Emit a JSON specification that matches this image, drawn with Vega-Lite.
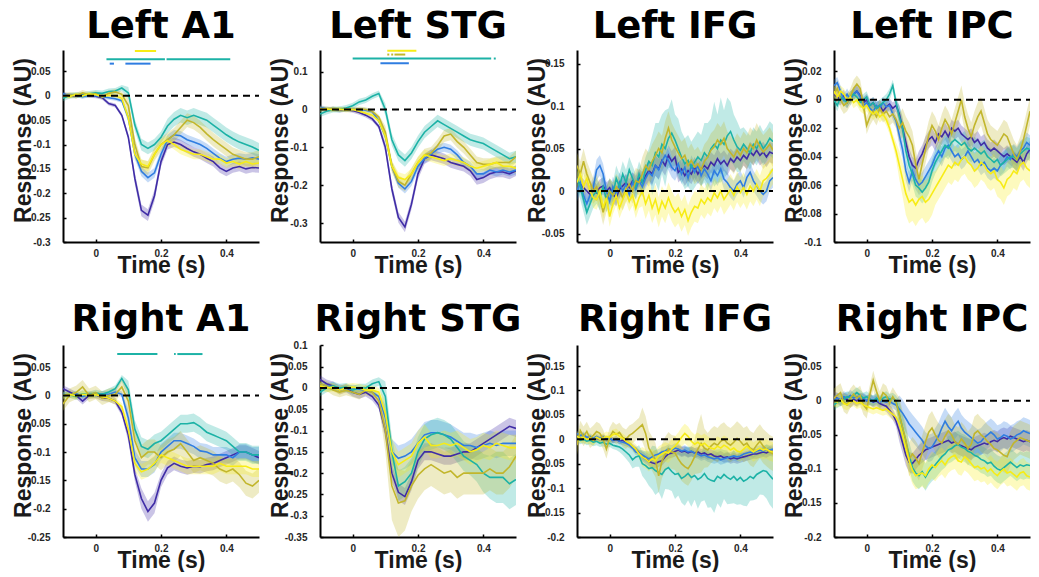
{
"$schema":"https://vega.github.io/schema/vega-lite/v6.json",
"background":"white",
"padding":{"left":12,"top":7,"right":0,"bottom":0},
"columns":4,
"spacing":{"row":103,"column":61},
"bounds":"flush",
"config":{
"view":{"stroke":null},
"axis":{"grid":false,"domainColor":"#000","domainWidth":2,"tickColor":"#000","tickWidth":1.5,"tickSize":-3,"labelFont":"Liberation Sans","labelFontWeight":"bold","labelFontSize":10,"labelColor":"#262626","titleFont":"Liberation Sans","titleFontWeight":"bold","titleFontSize":23,"titleColor":"#1a1a1a","labelFlush":false,"labelOverlap":false},
"axisX":{"labelPadding":9,"titleBaseline":"alphabetic","titleY":30},
"axisY":{"labelPadding":16,"titleBaseline":"alphabetic","titleX":-33,"titleY":90},
"title":{"font":"DejaVu Sans","fontSize":37,"fontWeight":"bold","color":"#000","baseline":"alphabetic","offset":4,"frame":"group","anchor":"middle"}
},
"datasets":{
"la1":[
{"s":1,"t":-0.1,"v":0.003,"e":0.004},{"s":1,"t":-0.08,"v":0.001,"e":0.004},{"s":1,"t":-0.06,"v":-0.001,"e":0.004},{"s":1,"t":-0.04,"v":0.002,"e":0.004},{"s":1,"t":-0.02,"v":0.0,"e":0.004},{"s":1,"t":0,"v":-0.001,"e":0.004},{"s":1,"t":0.02,"v":-0.004,"e":0.004},{"s":1,"t":0.04,"v":-0.016,"e":0.004},{"s":1,"t":0.06,"v":-0.02,"e":0.004},{"s":1,"t":0.08,"v":-0.04,"e":0.004},{"s":1,"t":0.1,"v":-0.085,"e":0.006},{"s":1,"t":0.12,"v":-0.17,"e":0.012},{"s":1,"t":0.14,"v":-0.235,"e":0.012},{"s":1,"t":0.16,"v":-0.245,"e":0.012},{"s":1,"t":0.18,"v":-0.205,"e":0.012},{"s":1,"t":0.2,"v":-0.135,"e":0.01},{"s":1,"t":0.22,"v":-0.1,"e":0.01},{"s":1,"t":0.24,"v":-0.095,"e":0.01},{"s":1,"t":0.26,"v":-0.1,"e":0.01},{"s":1,"t":0.28,"v":-0.108,"e":0.01},{"s":1,"t":0.3,"v":-0.115,"e":0.01},{"s":1,"t":0.32,"v":-0.12,"e":0.01},{"s":1,"t":0.34,"v":-0.128,"e":0.01},{"s":1,"t":0.36,"v":-0.135,"e":0.01},{"s":1,"t":0.38,"v":-0.148,"e":0.01},{"s":1,"t":0.4,"v":-0.155,"e":0.01},{"s":1,"t":0.42,"v":-0.148,"e":0.01},{"s":1,"t":0.44,"v":-0.145,"e":0.01},{"s":1,"t":0.46,"v":-0.15,"e":0.01},{"s":1,"t":0.48,"v":-0.147,"e":0.01},{"s":1,"t":0.5,"v":-0.148,"e":0.01},
{"s":2,"t":-0.1,"v":0.004,"e":0.004},{"s":2,"t":-0.08,"v":0.0,"e":0.004},{"s":2,"t":-0.06,"v":0.002,"e":0.004},{"s":2,"t":-0.04,"v":-0.002,"e":0.004},{"s":2,"t":-0.02,"v":0.001,"e":0.004},{"s":2,"t":0,"v":0.0,"e":0.004},{"s":2,"t":0.02,"v":-0.002,"e":0.004},{"s":2,"t":0.04,"v":-0.004,"e":0.004},{"s":2,"t":0.06,"v":-0.006,"e":0.004},{"s":2,"t":0.08,"v":-0.01,"e":0.004},{"s":2,"t":0.1,"v":-0.045,"e":0.01},{"s":2,"t":0.12,"v":-0.12,"e":0.01},{"s":2,"t":0.14,"v":-0.155,"e":0.01},{"s":2,"t":0.16,"v":-0.168,"e":0.01},{"s":2,"t":0.18,"v":-0.158,"e":0.01},{"s":2,"t":0.2,"v":-0.12,"e":0.01},{"s":2,"t":0.22,"v":-0.09,"e":0.01},{"s":2,"t":0.24,"v":-0.08,"e":0.01},{"s":2,"t":0.26,"v":-0.082,"e":0.01},{"s":2,"t":0.28,"v":-0.09,"e":0.01},{"s":2,"t":0.3,"v":-0.095,"e":0.01},{"s":2,"t":0.32,"v":-0.1,"e":0.01},{"s":2,"t":0.34,"v":-0.108,"e":0.01},{"s":2,"t":0.36,"v":-0.118,"e":0.01},{"s":2,"t":0.38,"v":-0.128,"e":0.01},{"s":2,"t":0.4,"v":-0.135,"e":0.01},{"s":2,"t":0.42,"v":-0.13,"e":0.01},{"s":2,"t":0.44,"v":-0.128,"e":0.01},{"s":2,"t":0.46,"v":-0.13,"e":0.01},{"s":2,"t":0.48,"v":-0.127,"e":0.01},{"s":2,"t":0.5,"v":-0.13,"e":0.01},
{"s":3,"t":-0.1,"v":-0.005,"e":0.006},{"s":3,"t":-0.08,"v":0.0,"e":0.006},{"s":3,"t":-0.06,"v":0.002,"e":0.006},{"s":3,"t":-0.04,"v":0.001,"e":0.006},{"s":3,"t":-0.02,"v":0.004,"e":0.006},{"s":3,"t":0,"v":0.006,"e":0.006},{"s":3,"t":0.02,"v":0.005,"e":0.006},{"s":3,"t":0.04,"v":0.009,"e":0.006},{"s":3,"t":0.06,"v":0.01,"e":0.006},{"s":3,"t":0.08,"v":0.016,"e":0.006},{"s":3,"t":0.1,"v":0.006,"e":0.012},{"s":3,"t":0.12,"v":-0.06,"e":0.012},{"s":3,"t":0.14,"v":-0.1,"e":0.012},{"s":3,"t":0.16,"v":-0.108,"e":0.012},{"s":3,"t":0.18,"v":-0.1,"e":0.012},{"s":3,"t":0.2,"v":-0.085,"e":0.012},{"s":3,"t":0.22,"v":-0.062,"e":0.015},{"s":3,"t":0.24,"v":-0.048,"e":0.015},{"s":3,"t":0.26,"v":-0.04,"e":0.015},{"s":3,"t":0.28,"v":-0.045,"e":0.015},{"s":3,"t":0.3,"v":-0.04,"e":0.015},{"s":3,"t":0.32,"v":-0.045,"e":0.015},{"s":3,"t":0.34,"v":-0.05,"e":0.015},{"s":3,"t":0.36,"v":-0.06,"e":0.015},{"s":3,"t":0.38,"v":-0.07,"e":0.015},{"s":3,"t":0.4,"v":-0.08,"e":0.015},{"s":3,"t":0.42,"v":-0.088,"e":0.015},{"s":3,"t":0.44,"v":-0.095,"e":0.015},{"s":3,"t":0.46,"v":-0.1,"e":0.015},{"s":3,"t":0.48,"v":-0.105,"e":0.015},{"s":3,"t":0.5,"v":-0.112,"e":0.015},
{"s":4,"t":-0.1,"v":0.0,"e":0.006},{"s":4,"t":-0.08,"v":0.002,"e":0.006},{"s":4,"t":-0.06,"v":0.0,"e":0.006},{"s":4,"t":-0.04,"v":0.006,"e":0.006},{"s":4,"t":-0.02,"v":0.002,"e":0.006},{"s":4,"t":0,"v":0.004,"e":0.006},{"s":4,"t":0.02,"v":-0.002,"e":0.006},{"s":4,"t":0.04,"v":0.005,"e":0.006},{"s":4,"t":0.06,"v":0.008,"e":0.006},{"s":4,"t":0.08,"v":0.003,"e":0.006},{"s":4,"t":0.1,"v":-0.02,"e":0.014},{"s":4,"t":0.12,"v":-0.1,"e":0.014},{"s":4,"t":0.14,"v":-0.145,"e":0.014},{"s":4,"t":0.16,"v":-0.148,"e":0.014},{"s":4,"t":0.18,"v":-0.12,"e":0.014},{"s":4,"t":0.2,"v":-0.1,"e":0.014},{"s":4,"t":0.22,"v":-0.09,"e":0.014},{"s":4,"t":0.24,"v":-0.08,"e":0.014},{"s":4,"t":0.26,"v":-0.065,"e":0.014},{"s":4,"t":0.28,"v":-0.05,"e":0.014},{"s":4,"t":0.3,"v":-0.055,"e":0.014},{"s":4,"t":0.32,"v":-0.065,"e":0.014},{"s":4,"t":0.34,"v":-0.078,"e":0.014},{"s":4,"t":0.36,"v":-0.09,"e":0.014},{"s":4,"t":0.38,"v":-0.1,"e":0.014},{"s":4,"t":0.4,"v":-0.11,"e":0.014},{"s":4,"t":0.42,"v":-0.12,"e":0.014},{"s":4,"t":0.44,"v":-0.125,"e":0.014},{"s":4,"t":0.46,"v":-0.13,"e":0.014},{"s":4,"t":0.48,"v":-0.13,"e":0.014},{"s":4,"t":0.5,"v":-0.125,"e":0.014},
{"s":5,"t":-0.1,"v":0.0,"e":0.004},{"s":5,"t":-0.08,"v":-0.002,"e":0.004},{"s":5,"t":-0.06,"v":0.003,"e":0.004},{"s":5,"t":-0.04,"v":0.0,"e":0.004},{"s":5,"t":-0.02,"v":0.004,"e":0.004},{"s":5,"t":0,"v":0.002,"e":0.004},{"s":5,"t":0.02,"v":-0.002,"e":0.004},{"s":5,"t":0.04,"v":0.001,"e":0.004},{"s":5,"t":0.06,"v":0.0,"e":0.004},{"s":5,"t":0.08,"v":-0.005,"e":0.004},{"s":5,"t":0.1,"v":-0.045,"e":0.01},{"s":5,"t":0.12,"v":-0.12,"e":0.01},{"s":5,"t":0.14,"v":-0.14,"e":0.01},{"s":5,"t":0.16,"v":-0.145,"e":0.01},{"s":5,"t":0.18,"v":-0.12,"e":0.01},{"s":5,"t":0.2,"v":-0.1,"e":0.01},{"s":5,"t":0.22,"v":-0.092,"e":0.01},{"s":5,"t":0.24,"v":-0.1,"e":0.01},{"s":5,"t":0.26,"v":-0.11,"e":0.01},{"s":5,"t":0.28,"v":-0.115,"e":0.01},{"s":5,"t":0.3,"v":-0.12,"e":0.01},{"s":5,"t":0.32,"v":-0.12,"e":0.01},{"s":5,"t":0.34,"v":-0.125,"e":0.01},{"s":5,"t":0.36,"v":-0.13,"e":0.01},{"s":5,"t":0.38,"v":-0.13,"e":0.01},{"s":5,"t":0.4,"v":-0.138,"e":0.01},{"s":5,"t":0.42,"v":-0.135,"e":0.01},{"s":5,"t":0.44,"v":-0.14,"e":0.01},{"s":5,"t":0.46,"v":-0.135,"e":0.01},{"s":5,"t":0.48,"v":-0.14,"e":0.01},{"s":5,"t":0.5,"v":-0.138,"e":0.01}
],
"lstg":[
{"s":1,"t":-0.1,"v":0.002,"e":0.006},{"s":1,"t":-0.08,"v":0.0,"e":0.006},{"s":1,"t":-0.06,"v":0.001,"e":0.006},{"s":1,"t":-0.04,"v":-0.002,"e":0.006},{"s":1,"t":-0.02,"v":0.0,"e":0.006},{"s":1,"t":0,"v":-0.003,"e":0.006},{"s":1,"t":0.02,"v":-0.008,"e":0.006},{"s":1,"t":0.04,"v":-0.015,"e":0.006},{"s":1,"t":0.06,"v":-0.025,"e":0.006},{"s":1,"t":0.08,"v":-0.045,"e":0.006},{"s":1,"t":0.1,"v":-0.1,"e":0.014},{"s":1,"t":0.12,"v":-0.21,"e":0.014},{"s":1,"t":0.14,"v":-0.285,"e":0.014},{"s":1,"t":0.16,"v":-0.31,"e":0.014},{"s":1,"t":0.18,"v":-0.25,"e":0.014},{"s":1,"t":0.2,"v":-0.17,"e":0.014},{"s":1,"t":0.22,"v":-0.13,"e":0.014},{"s":1,"t":0.24,"v":-0.12,"e":0.014},{"s":1,"t":0.26,"v":-0.125,"e":0.014},{"s":1,"t":0.28,"v":-0.13,"e":0.014},{"s":1,"t":0.3,"v":-0.14,"e":0.014},{"s":1,"t":0.32,"v":-0.145,"e":0.014},{"s":1,"t":0.34,"v":-0.15,"e":0.014},{"s":1,"t":0.36,"v":-0.162,"e":0.014},{"s":1,"t":0.38,"v":-0.185,"e":0.014},{"s":1,"t":0.4,"v":-0.18,"e":0.014},{"s":1,"t":0.42,"v":-0.17,"e":0.014},{"s":1,"t":0.44,"v":-0.165,"e":0.014},{"s":1,"t":0.46,"v":-0.165,"e":0.014},{"s":1,"t":0.48,"v":-0.17,"e":0.014},{"s":1,"t":0.5,"v":-0.162,"e":0.014},
{"s":2,"t":-0.1,"v":0.005,"e":0.006},{"s":2,"t":-0.08,"v":0.002,"e":0.006},{"s":2,"t":-0.06,"v":0.0,"e":0.006},{"s":2,"t":-0.04,"v":0.001,"e":0.006},{"s":2,"t":-0.02,"v":-0.001,"e":0.006},{"s":2,"t":0,"v":0.0,"e":0.006},{"s":2,"t":0.02,"v":0.0,"e":0.006},{"s":2,"t":0.04,"v":-0.002,"e":0.006},{"s":2,"t":0.06,"v":-0.006,"e":0.006},{"s":2,"t":0.08,"v":-0.03,"e":0.006},{"s":2,"t":0.1,"v":-0.07,"e":0.012},{"s":2,"t":0.12,"v":-0.15,"e":0.012},{"s":2,"t":0.14,"v":-0.195,"e":0.012},{"s":2,"t":0.16,"v":-0.21,"e":0.012},{"s":2,"t":0.18,"v":-0.19,"e":0.012},{"s":2,"t":0.2,"v":-0.15,"e":0.012},{"s":2,"t":0.22,"v":-0.13,"e":0.012},{"s":2,"t":0.24,"v":-0.118,"e":0.012},{"s":2,"t":0.26,"v":-0.105,"e":0.012},{"s":2,"t":0.28,"v":-0.1,"e":0.012},{"s":2,"t":0.3,"v":-0.105,"e":0.012},{"s":2,"t":0.32,"v":-0.12,"e":0.012},{"s":2,"t":0.34,"v":-0.14,"e":0.012},{"s":2,"t":0.36,"v":-0.15,"e":0.012},{"s":2,"t":0.38,"v":-0.17,"e":0.012},{"s":2,"t":0.4,"v":-0.17,"e":0.012},{"s":2,"t":0.42,"v":-0.16,"e":0.012},{"s":2,"t":0.44,"v":-0.165,"e":0.012},{"s":2,"t":0.46,"v":-0.16,"e":0.012},{"s":2,"t":0.48,"v":-0.165,"e":0.012},{"s":2,"t":0.5,"v":-0.16,"e":0.012},
{"s":3,"t":-0.1,"v":-0.012,"e":0.008},{"s":3,"t":-0.08,"v":-0.005,"e":0.008},{"s":3,"t":-0.06,"v":0.0,"e":0.008},{"s":3,"t":-0.04,"v":0.0,"e":0.008},{"s":3,"t":-0.02,"v":0.004,"e":0.008},{"s":3,"t":0,"v":0.01,"e":0.008},{"s":3,"t":0.02,"v":0.02,"e":0.008},{"s":3,"t":0.04,"v":0.025,"e":0.008},{"s":3,"t":0.06,"v":0.035,"e":0.008},{"s":3,"t":0.08,"v":0.042,"e":0.008},{"s":3,"t":0.1,"v":0.0,"e":0.016},{"s":3,"t":0.12,"v":-0.08,"e":0.016},{"s":3,"t":0.14,"v":-0.12,"e":0.016},{"s":3,"t":0.16,"v":-0.135,"e":0.016},{"s":3,"t":0.18,"v":-0.115,"e":0.016},{"s":3,"t":0.2,"v":-0.085,"e":0.016},{"s":3,"t":0.22,"v":-0.06,"e":0.016},{"s":3,"t":0.24,"v":-0.045,"e":0.016},{"s":3,"t":0.26,"v":-0.03,"e":0.016},{"s":3,"t":0.28,"v":-0.04,"e":0.016},{"s":3,"t":0.3,"v":-0.05,"e":0.016},{"s":3,"t":0.32,"v":-0.06,"e":0.016},{"s":3,"t":0.34,"v":-0.07,"e":0.016},{"s":3,"t":0.36,"v":-0.08,"e":0.016},{"s":3,"t":0.38,"v":-0.085,"e":0.016},{"s":3,"t":0.4,"v":-0.09,"e":0.016},{"s":3,"t":0.42,"v":-0.1,"e":0.016},{"s":3,"t":0.44,"v":-0.11,"e":0.016},{"s":3,"t":0.46,"v":-0.12,"e":0.016},{"s":3,"t":0.48,"v":-0.13,"e":0.016},{"s":3,"t":0.5,"v":-0.125,"e":0.016},
{"s":4,"t":-0.1,"v":0.003,"e":0.006},{"s":4,"t":-0.08,"v":0.0,"e":0.006},{"s":4,"t":-0.06,"v":0.002,"e":0.006},{"s":4,"t":-0.04,"v":-0.001,"e":0.006},{"s":4,"t":-0.02,"v":0.001,"e":0.006},{"s":4,"t":0,"v":0.0,"e":0.006},{"s":4,"t":0.02,"v":0.002,"e":0.006},{"s":4,"t":0.04,"v":0.0,"e":0.006},{"s":4,"t":0.06,"v":-0.005,"e":0.006},{"s":4,"t":0.08,"v":-0.02,"e":0.006},{"s":4,"t":0.1,"v":-0.06,"e":0.016},{"s":4,"t":0.12,"v":-0.15,"e":0.016},{"s":4,"t":0.14,"v":-0.19,"e":0.016},{"s":4,"t":0.16,"v":-0.2,"e":0.016},{"s":4,"t":0.18,"v":-0.17,"e":0.016},{"s":4,"t":0.2,"v":-0.14,"e":0.016},{"s":4,"t":0.22,"v":-0.12,"e":0.016},{"s":4,"t":0.24,"v":-0.115,"e":0.016},{"s":4,"t":0.26,"v":-0.095,"e":0.016},{"s":4,"t":0.28,"v":-0.07,"e":0.016},{"s":4,"t":0.3,"v":-0.065,"e":0.016},{"s":4,"t":0.32,"v":-0.085,"e":0.016},{"s":4,"t":0.34,"v":-0.1,"e":0.016},{"s":4,"t":0.36,"v":-0.12,"e":0.016},{"s":4,"t":0.38,"v":-0.14,"e":0.016},{"s":4,"t":0.4,"v":-0.145,"e":0.016},{"s":4,"t":0.42,"v":-0.145,"e":0.016},{"s":4,"t":0.44,"v":-0.14,"e":0.016},{"s":4,"t":0.46,"v":-0.14,"e":0.016},{"s":4,"t":0.48,"v":-0.14,"e":0.016},{"s":4,"t":0.5,"v":-0.125,"e":0.016},
{"s":5,"t":-0.1,"v":0.0,"e":0.006},{"s":5,"t":-0.08,"v":0.002,"e":0.006},{"s":5,"t":-0.06,"v":-0.001,"e":0.006},{"s":5,"t":-0.04,"v":0.001,"e":0.006},{"s":5,"t":-0.02,"v":-0.002,"e":0.006},{"s":5,"t":0,"v":0.0,"e":0.006},{"s":5,"t":0.02,"v":-0.005,"e":0.006},{"s":5,"t":0.04,"v":-0.01,"e":0.006},{"s":5,"t":0.06,"v":-0.015,"e":0.006},{"s":5,"t":0.08,"v":-0.03,"e":0.006},{"s":5,"t":0.1,"v":-0.07,"e":0.014},{"s":5,"t":0.12,"v":-0.15,"e":0.014},{"s":5,"t":0.14,"v":-0.18,"e":0.014},{"s":5,"t":0.16,"v":-0.185,"e":0.014},{"s":5,"t":0.18,"v":-0.17,"e":0.014},{"s":5,"t":0.2,"v":-0.14,"e":0.014},{"s":5,"t":0.22,"v":-0.12,"e":0.014},{"s":5,"t":0.24,"v":-0.125,"e":0.014},{"s":5,"t":0.26,"v":-0.13,"e":0.014},{"s":5,"t":0.28,"v":-0.135,"e":0.014},{"s":5,"t":0.3,"v":-0.13,"e":0.014},{"s":5,"t":0.32,"v":-0.135,"e":0.014},{"s":5,"t":0.34,"v":-0.14,"e":0.014},{"s":5,"t":0.36,"v":-0.15,"e":0.014},{"s":5,"t":0.38,"v":-0.155,"e":0.014},{"s":5,"t":0.4,"v":-0.15,"e":0.014},{"s":5,"t":0.42,"v":-0.145,"e":0.014},{"s":5,"t":0.44,"v":-0.14,"e":0.014},{"s":5,"t":0.46,"v":-0.15,"e":0.014},{"s":5,"t":0.48,"v":-0.15,"e":0.014},{"s":5,"t":0.5,"v":-0.155,"e":0.014}
],
"lifg":[
{"s":1,"t":-0.1,"v":0.012,"e":0.01},{"s":1,"t":-0.09,"v":0.008,"e":0.01},{"s":1,"t":-0.08,"v":0.004,"e":0.01},{"s":1,"t":-0.07,"v":0.0,"e":0.01},{"s":1,"t":-0.06,"v":-0.004,"e":0.01},{"s":1,"t":-0.05,"v":0.002,"e":0.01},{"s":1,"t":-0.04,"v":-0.002,"e":0.01},{"s":1,"t":-0.03,"v":0.004,"e":0.01},{"s":1,"t":-0.02,"v":0.006,"e":0.01},{"s":1,"t":-0.01,"v":0.0,"e":0.01},{"s":1,"t":0,"v":0.004,"e":0.01},{"s":1,"t":0.01,"v":-0.004,"e":0.01},{"s":1,"t":0.02,"v":-0.008,"e":0.01},{"s":1,"t":0.03,"v":0.002,"e":0.01},{"s":1,"t":0.04,"v":0.006,"e":0.01},{"s":1,"t":0.05,"v":0.01,"e":0.01},{"s":1,"t":0.06,"v":0.004,"e":0.01},{"s":1,"t":0.07,"v":0.012,"e":0.01},{"s":1,"t":0.08,"v":0.008,"e":0.01},{"s":1,"t":0.09,"v":0.016,"e":0.01},{"s":1,"t":0.1,"v":0.01,"e":0.012},{"s":1,"t":0.11,"v":0.018,"e":0.012},{"s":1,"t":0.12,"v":0.024,"e":0.012},{"s":1,"t":0.13,"v":0.02,"e":0.012},{"s":1,"t":0.14,"v":0.03,"e":0.012},{"s":1,"t":0.15,"v":0.026,"e":0.012},{"s":1,"t":0.16,"v":0.036,"e":0.012},{"s":1,"t":0.17,"v":0.03,"e":0.012},{"s":1,"t":0.18,"v":0.042,"e":0.012},{"s":1,"t":0.19,"v":0.035,"e":0.012},{"s":1,"t":0.2,"v":0.04,"e":0.012},{"s":1,"t":0.21,"v":0.022,"e":0.012},{"s":1,"t":0.22,"v":0.026,"e":0.012},{"s":1,"t":0.23,"v":0.018,"e":0.012},{"s":1,"t":0.24,"v":0.024,"e":0.012},{"s":1,"t":0.25,"v":0.02,"e":0.012},{"s":1,"t":0.26,"v":0.028,"e":0.012},{"s":1,"t":0.27,"v":0.02,"e":0.012},{"s":1,"t":0.28,"v":0.026,"e":0.012},{"s":1,"t":0.29,"v":0.03,"e":0.012},{"s":1,"t":0.3,"v":0.026,"e":0.012},{"s":1,"t":0.31,"v":0.034,"e":0.012},{"s":1,"t":0.32,"v":0.03,"e":0.012},{"s":1,"t":0.33,"v":0.038,"e":0.012},{"s":1,"t":0.34,"v":0.032,"e":0.012},{"s":1,"t":0.35,"v":0.036,"e":0.012},{"s":1,"t":0.36,"v":0.03,"e":0.012},{"s":1,"t":0.37,"v":0.038,"e":0.012},{"s":1,"t":0.38,"v":0.034,"e":0.012},{"s":1,"t":0.39,"v":0.04,"e":0.012},{"s":1,"t":0.4,"v":0.036,"e":0.012},{"s":1,"t":0.41,"v":0.042,"e":0.012},{"s":1,"t":0.42,"v":0.038,"e":0.012},{"s":1,"t":0.43,"v":0.046,"e":0.012},{"s":1,"t":0.44,"v":0.042,"e":0.012},{"s":1,"t":0.45,"v":0.048,"e":0.012},{"s":1,"t":0.46,"v":0.042,"e":0.012},{"s":1,"t":0.47,"v":0.046,"e":0.012},{"s":1,"t":0.48,"v":0.04,"e":0.012},{"s":1,"t":0.49,"v":0.046,"e":0.012},{"s":1,"t":0.5,"v":0.044,"e":0.012},
{"s":2,"t":-0.1,"v":0.0,"e":0.012},{"s":2,"t":-0.09,"v":0.01,"e":0.012},{"s":2,"t":-0.08,"v":-0.005,"e":0.012},{"s":2,"t":-0.07,"v":-0.015,"e":0.012},{"s":2,"t":-0.06,"v":-0.005,"e":0.012},{"s":2,"t":-0.05,"v":0.005,"e":0.012},{"s":2,"t":-0.04,"v":0.025,"e":0.012},{"s":2,"t":-0.03,"v":0.03,"e":0.012},{"s":2,"t":-0.02,"v":0.02,"e":0.012},{"s":2,"t":-0.01,"v":0.0,"e":0.012},{"s":2,"t":0,"v":-0.012,"e":0.012},{"s":2,"t":0.01,"v":0.005,"e":0.012},{"s":2,"t":0.02,"v":-0.005,"e":0.012},{"s":2,"t":0.03,"v":0.01,"e":0.012},{"s":2,"t":0.04,"v":0.0,"e":0.012},{"s":2,"t":0.05,"v":0.008,"e":0.012},{"s":2,"t":0.06,"v":-0.004,"e":0.012},{"s":2,"t":0.07,"v":0.01,"e":0.012},{"s":2,"t":0.08,"v":0.002,"e":0.012},{"s":2,"t":0.09,"v":0.012,"e":0.012},{"s":2,"t":0.1,"v":0.005,"e":0.012},{"s":2,"t":0.11,"v":0.015,"e":0.012},{"s":2,"t":0.12,"v":0.022,"e":0.012},{"s":2,"t":0.13,"v":0.018,"e":0.012},{"s":2,"t":0.14,"v":0.03,"e":0.012},{"s":2,"t":0.15,"v":0.025,"e":0.012},{"s":2,"t":0.16,"v":0.035,"e":0.012},{"s":2,"t":0.17,"v":0.042,"e":0.012},{"s":2,"t":0.18,"v":0.036,"e":0.012},{"s":2,"t":0.19,"v":0.028,"e":0.012},{"s":2,"t":0.2,"v":0.024,"e":0.012},{"s":2,"t":0.21,"v":0.032,"e":0.012},{"s":2,"t":0.22,"v":0.02,"e":0.012},{"s":2,"t":0.23,"v":0.028,"e":0.012},{"s":2,"t":0.24,"v":0.015,"e":0.012},{"s":2,"t":0.25,"v":0.03,"e":0.012},{"s":2,"t":0.26,"v":0.022,"e":0.012},{"s":2,"t":0.27,"v":0.03,"e":0.012},{"s":2,"t":0.28,"v":0.018,"e":0.012},{"s":2,"t":0.29,"v":0.026,"e":0.012},{"s":2,"t":0.3,"v":0.02,"e":0.012},{"s":2,"t":0.31,"v":0.012,"e":0.012},{"s":2,"t":0.32,"v":0.024,"e":0.012},{"s":2,"t":0.33,"v":0.018,"e":0.012},{"s":2,"t":0.34,"v":0.026,"e":0.012},{"s":2,"t":0.35,"v":0.014,"e":0.012},{"s":2,"t":0.36,"v":0.01,"e":0.012},{"s":2,"t":0.37,"v":0.004,"e":0.012},{"s":2,"t":0.38,"v":0.0,"e":0.012},{"s":2,"t":0.39,"v":0.008,"e":0.012},{"s":2,"t":0.4,"v":0.012,"e":0.012},{"s":2,"t":0.41,"v":0.004,"e":0.012},{"s":2,"t":0.42,"v":0.016,"e":0.012},{"s":2,"t":0.43,"v":0.022,"e":0.012},{"s":2,"t":0.44,"v":0.012,"e":0.012},{"s":2,"t":0.45,"v":0.006,"e":0.012},{"s":2,"t":0.46,"v":0.0,"e":0.012},{"s":2,"t":0.47,"v":-0.004,"e":0.012},{"s":2,"t":0.48,"v":0.0,"e":0.012},{"s":2,"t":0.49,"v":0.012,"e":0.012},{"s":2,"t":0.5,"v":0.016,"e":0.012},
{"s":3,"t":-0.1,"v":0.015,"e":0.015},{"s":3,"t":-0.09,"v":0.005,"e":0.015},{"s":3,"t":-0.08,"v":-0.01,"e":0.015},{"s":3,"t":-0.07,"v":-0.025,"e":0.015},{"s":3,"t":-0.06,"v":-0.015,"e":0.015},{"s":3,"t":-0.05,"v":-0.005,"e":0.015},{"s":3,"t":-0.04,"v":0.0,"e":0.015},{"s":3,"t":-0.03,"v":-0.008,"e":0.015},{"s":3,"t":-0.02,"v":0.005,"e":0.015},{"s":3,"t":-0.01,"v":-0.01,"e":0.015},{"s":3,"t":0,"v":0.0,"e":0.015},{"s":3,"t":0.01,"v":-0.005,"e":0.015},{"s":3,"t":0.02,"v":0.015,"e":0.015},{"s":3,"t":0.03,"v":0.005,"e":0.015},{"s":3,"t":0.04,"v":0.02,"e":0.015},{"s":3,"t":0.05,"v":0.01,"e":0.015},{"s":3,"t":0.06,"v":0.025,"e":0.015},{"s":3,"t":0.07,"v":0.015,"e":0.015},{"s":3,"t":0.08,"v":0.005,"e":0.015},{"s":3,"t":0.09,"v":0.02,"e":0.015},{"s":3,"t":0.1,"v":0.01,"e":0.015},{"s":3,"t":0.11,"v":0.025,"e":0.015},{"s":3,"t":0.12,"v":0.035,"e":0.015},{"s":3,"t":0.13,"v":0.03,"e":0.035},{"s":3,"t":0.14,"v":0.045,"e":0.035},{"s":3,"t":0.15,"v":0.04,"e":0.04},{"s":3,"t":0.16,"v":0.055,"e":0.035},{"s":3,"t":0.17,"v":0.05,"e":0.045},{"s":3,"t":0.18,"v":0.062,"e":0.035},{"s":3,"t":0.19,"v":0.068,"e":0.04},{"s":3,"t":0.2,"v":0.06,"e":0.03},{"s":3,"t":0.21,"v":0.05,"e":0.035},{"s":3,"t":0.22,"v":0.04,"e":0.03},{"s":3,"t":0.23,"v":0.032,"e":0.03},{"s":3,"t":0.24,"v":0.036,"e":0.03},{"s":3,"t":0.25,"v":0.028,"e":0.03},{"s":3,"t":0.26,"v":0.034,"e":0.03},{"s":3,"t":0.27,"v":0.04,"e":0.03},{"s":3,"t":0.28,"v":0.036,"e":0.03},{"s":3,"t":0.29,"v":0.045,"e":0.035},{"s":3,"t":0.3,"v":0.04,"e":0.04},{"s":3,"t":0.31,"v":0.05,"e":0.035},{"s":3,"t":0.32,"v":0.055,"e":0.05},{"s":3,"t":0.33,"v":0.05,"e":0.04},{"s":3,"t":0.34,"v":0.06,"e":0.05},{"s":3,"t":0.35,"v":0.055,"e":0.04},{"s":3,"t":0.36,"v":0.065,"e":0.045},{"s":3,"t":0.37,"v":0.07,"e":0.035},{"s":3,"t":0.38,"v":0.06,"e":0.03},{"s":3,"t":0.39,"v":0.052,"e":0.03},{"s":3,"t":0.4,"v":0.048,"e":0.025},{"s":3,"t":0.41,"v":0.055,"e":0.02},{"s":3,"t":0.42,"v":0.05,"e":0.02},{"s":3,"t":0.43,"v":0.045,"e":0.02},{"s":3,"t":0.44,"v":0.055,"e":0.02},{"s":3,"t":0.45,"v":0.05,"e":0.02},{"s":3,"t":0.46,"v":0.058,"e":0.02},{"s":3,"t":0.47,"v":0.05,"e":0.02},{"s":3,"t":0.48,"v":0.055,"e":0.02},{"s":3,"t":0.49,"v":0.062,"e":0.02},{"s":3,"t":0.5,"v":0.058,"e":0.02},
{"s":4,"t":-0.1,"v":0.03,"e":0.015},{"s":4,"t":-0.09,"v":0.02,"e":0.015},{"s":4,"t":-0.08,"v":0.035,"e":0.015},{"s":4,"t":-0.07,"v":0.02,"e":0.015},{"s":4,"t":-0.06,"v":0.01,"e":0.015},{"s":4,"t":-0.05,"v":0.0,"e":0.015},{"s":4,"t":-0.04,"v":0.005,"e":0.015},{"s":4,"t":-0.03,"v":-0.008,"e":0.015},{"s":4,"t":-0.02,"v":-0.025,"e":0.015},{"s":4,"t":-0.01,"v":-0.01,"e":0.015},{"s":4,"t":0,"v":0.0,"e":0.015},{"s":4,"t":0.01,"v":-0.005,"e":0.015},{"s":4,"t":0.02,"v":0.005,"e":0.015},{"s":4,"t":0.03,"v":0.0,"e":0.015},{"s":4,"t":0.04,"v":-0.008,"e":0.015},{"s":4,"t":0.05,"v":0.002,"e":0.015},{"s":4,"t":0.06,"v":0.008,"e":0.015},{"s":4,"t":0.07,"v":0.0,"e":0.015},{"s":4,"t":0.08,"v":0.012,"e":0.015},{"s":4,"t":0.09,"v":0.01,"e":0.015},{"s":4,"t":0.1,"v":0.02,"e":0.02},{"s":4,"t":0.11,"v":0.03,"e":0.02},{"s":4,"t":0.12,"v":0.025,"e":0.02},{"s":4,"t":0.13,"v":0.035,"e":0.02},{"s":4,"t":0.14,"v":0.042,"e":0.02},{"s":4,"t":0.15,"v":0.05,"e":0.02},{"s":4,"t":0.16,"v":0.045,"e":0.02},{"s":4,"t":0.17,"v":0.062,"e":0.02},{"s":4,"t":0.18,"v":0.074,"e":0.02},{"s":4,"t":0.19,"v":0.06,"e":0.02},{"s":4,"t":0.2,"v":0.052,"e":0.02},{"s":4,"t":0.21,"v":0.045,"e":0.02},{"s":4,"t":0.22,"v":0.038,"e":0.02},{"s":4,"t":0.23,"v":0.042,"e":0.02},{"s":4,"t":0.24,"v":0.03,"e":0.02},{"s":4,"t":0.25,"v":0.036,"e":0.02},{"s":4,"t":0.26,"v":0.028,"e":0.02},{"s":4,"t":0.27,"v":0.032,"e":0.02},{"s":4,"t":0.28,"v":0.025,"e":0.02},{"s":4,"t":0.29,"v":0.035,"e":0.02},{"s":4,"t":0.3,"v":0.04,"e":0.02},{"s":4,"t":0.31,"v":0.048,"e":0.02},{"s":4,"t":0.32,"v":0.052,"e":0.02},{"s":4,"t":0.33,"v":0.06,"e":0.02},{"s":4,"t":0.34,"v":0.055,"e":0.02},{"s":4,"t":0.35,"v":0.062,"e":0.02},{"s":4,"t":0.36,"v":0.05,"e":0.02},{"s":4,"t":0.37,"v":0.045,"e":0.02},{"s":4,"t":0.38,"v":0.04,"e":0.02},{"s":4,"t":0.39,"v":0.048,"e":0.02},{"s":4,"t":0.4,"v":0.042,"e":0.02},{"s":4,"t":0.41,"v":0.05,"e":0.02},{"s":4,"t":0.42,"v":0.045,"e":0.02},{"s":4,"t":0.43,"v":0.055,"e":0.02},{"s":4,"t":0.44,"v":0.05,"e":0.02},{"s":4,"t":0.45,"v":0.06,"e":0.02},{"s":4,"t":0.46,"v":0.052,"e":0.02},{"s":4,"t":0.47,"v":0.046,"e":0.02},{"s":4,"t":0.48,"v":0.05,"e":0.02},{"s":4,"t":0.49,"v":0.055,"e":0.02},{"s":4,"t":0.5,"v":0.048,"e":0.02},
{"s":5,"t":-0.1,"v":0.01,"e":0.012},{"s":5,"t":-0.09,"v":0.02,"e":0.012},{"s":5,"t":-0.08,"v":0.005,"e":0.012},{"s":5,"t":-0.07,"v":0.015,"e":0.012},{"s":5,"t":-0.06,"v":0.0,"e":0.012},{"s":5,"t":-0.05,"v":-0.008,"e":0.012},{"s":5,"t":-0.04,"v":-0.01,"e":0.012},{"s":5,"t":-0.03,"v":0.0,"e":0.012},{"s":5,"t":-0.02,"v":-0.02,"e":0.012},{"s":5,"t":-0.01,"v":-0.008,"e":0.012},{"s":5,"t":0,"v":-0.03,"e":0.012},{"s":5,"t":0.01,"v":-0.015,"e":0.012},{"s":5,"t":0.02,"v":-0.005,"e":0.012},{"s":5,"t":0.03,"v":-0.02,"e":0.012},{"s":5,"t":0.04,"v":-0.01,"e":0.012},{"s":5,"t":0.05,"v":0.0,"e":0.012},{"s":5,"t":0.06,"v":-0.012,"e":0.012},{"s":5,"t":0.07,"v":-0.005,"e":0.012},{"s":5,"t":0.08,"v":-0.02,"e":0.012},{"s":5,"t":0.09,"v":-0.008,"e":0.012},{"s":5,"t":0.1,"v":0.0,"e":0.018},{"s":5,"t":0.11,"v":-0.015,"e":0.018},{"s":5,"t":0.12,"v":-0.005,"e":0.018},{"s":5,"t":0.13,"v":-0.02,"e":0.018},{"s":5,"t":0.14,"v":-0.01,"e":0.018},{"s":5,"t":0.15,"v":-0.025,"e":0.018},{"s":5,"t":0.16,"v":-0.012,"e":0.018},{"s":5,"t":0.17,"v":-0.02,"e":0.018},{"s":5,"t":0.18,"v":-0.008,"e":0.018},{"s":5,"t":0.19,"v":-0.018,"e":0.018},{"s":5,"t":0.2,"v":-0.025,"e":0.018},{"s":5,"t":0.21,"v":-0.02,"e":0.018},{"s":5,"t":0.22,"v":-0.03,"e":0.018},{"s":5,"t":0.23,"v":-0.022,"e":0.018},{"s":5,"t":0.24,"v":-0.035,"e":0.018},{"s":5,"t":0.25,"v":-0.025,"e":0.018},{"s":5,"t":0.26,"v":-0.018,"e":0.018},{"s":5,"t":0.27,"v":-0.02,"e":0.018},{"s":5,"t":0.28,"v":-0.01,"e":0.018},{"s":5,"t":0.29,"v":-0.015,"e":0.018},{"s":5,"t":0.3,"v":-0.008,"e":0.018},{"s":5,"t":0.31,"v":-0.012,"e":0.018},{"s":5,"t":0.32,"v":-0.002,"e":0.018},{"s":5,"t":0.33,"v":-0.008,"e":0.018},{"s":5,"t":0.34,"v":0.0,"e":0.018},{"s":5,"t":0.35,"v":-0.01,"e":0.018},{"s":5,"t":0.36,"v":-0.004,"e":0.018},{"s":5,"t":0.37,"v":0.002,"e":0.018},{"s":5,"t":0.38,"v":-0.005,"e":0.018},{"s":5,"t":0.39,"v":0.005,"e":0.018},{"s":5,"t":0.4,"v":-0.002,"e":0.018},{"s":5,"t":0.41,"v":0.004,"e":0.018},{"s":5,"t":0.42,"v":-0.004,"e":0.018},{"s":5,"t":0.43,"v":0.006,"e":0.018},{"s":5,"t":0.44,"v":0.0,"e":0.018},{"s":5,"t":0.45,"v":0.008,"e":0.018},{"s":5,"t":0.46,"v":0.0,"e":0.018},{"s":5,"t":0.47,"v":0.012,"e":0.018},{"s":5,"t":0.48,"v":0.015,"e":0.018},{"s":5,"t":0.49,"v":0.02,"e":0.018},{"s":5,"t":0.5,"v":0.026,"e":0.018}
],
"lipc":[
{"s":1,"t":-0.1,"v":0.004,"e":0.004},{"s":1,"t":-0.09,"v":0.002,"e":0.004},{"s":1,"t":-0.08,"v":0.0,"e":0.004},{"s":1,"t":-0.07,"v":0.003,"e":0.004},{"s":1,"t":-0.06,"v":-0.002,"e":0.004},{"s":1,"t":-0.05,"v":0.002,"e":0.004},{"s":1,"t":-0.04,"v":0.004,"e":0.004},{"s":1,"t":-0.03,"v":0.006,"e":0.004},{"s":1,"t":-0.02,"v":0.003,"e":0.004},{"s":1,"t":-0.01,"v":-0.002,"e":0.004},{"s":1,"t":0,"v":0.0,"e":0.004},{"s":1,"t":0.01,"v":-0.004,"e":0.004},{"s":1,"t":0.02,"v":-0.002,"e":0.004},{"s":1,"t":0.03,"v":-0.006,"e":0.004},{"s":1,"t":0.04,"v":-0.004,"e":0.004},{"s":1,"t":0.05,"v":-0.008,"e":0.004},{"s":1,"t":0.06,"v":-0.005,"e":0.004},{"s":1,"t":0.07,"v":-0.003,"e":0.004},{"s":1,"t":0.08,"v":-0.006,"e":0.004},{"s":1,"t":0.09,"v":-0.004,"e":0.004},{"s":1,"t":0.1,"v":-0.01,"e":0.006},{"s":1,"t":0.11,"v":-0.02,"e":0.006},{"s":1,"t":0.12,"v":-0.03,"e":0.006},{"s":1,"t":0.13,"v":-0.04,"e":0.006},{"s":1,"t":0.14,"v":-0.046,"e":0.006},{"s":1,"t":0.15,"v":-0.048,"e":0.006},{"s":1,"t":0.16,"v":-0.042,"e":0.006},{"s":1,"t":0.17,"v":-0.038,"e":0.006},{"s":1,"t":0.18,"v":-0.032,"e":0.006},{"s":1,"t":0.19,"v":-0.028,"e":0.006},{"s":1,"t":0.2,"v":-0.026,"e":0.006},{"s":1,"t":0.21,"v":-0.03,"e":0.006},{"s":1,"t":0.22,"v":-0.024,"e":0.006},{"s":1,"t":0.23,"v":-0.026,"e":0.006},{"s":1,"t":0.24,"v":-0.022,"e":0.006},{"s":1,"t":0.25,"v":-0.026,"e":0.006},{"s":1,"t":0.26,"v":-0.02,"e":0.006},{"s":1,"t":0.27,"v":-0.022,"e":0.006},{"s":1,"t":0.28,"v":-0.02,"e":0.006},{"s":1,"t":0.29,"v":-0.024,"e":0.006},{"s":1,"t":0.3,"v":-0.026,"e":0.006},{"s":1,"t":0.31,"v":-0.028,"e":0.006},{"s":1,"t":0.32,"v":-0.026,"e":0.006},{"s":1,"t":0.33,"v":-0.03,"e":0.006},{"s":1,"t":0.34,"v":-0.028,"e":0.006},{"s":1,"t":0.35,"v":-0.032,"e":0.006},{"s":1,"t":0.36,"v":-0.03,"e":0.006},{"s":1,"t":0.37,"v":-0.034,"e":0.006},{"s":1,"t":0.38,"v":-0.036,"e":0.006},{"s":1,"t":0.39,"v":-0.034,"e":0.006},{"s":1,"t":0.4,"v":-0.036,"e":0.006},{"s":1,"t":0.41,"v":-0.038,"e":0.006},{"s":1,"t":0.42,"v":-0.04,"e":0.006},{"s":1,"t":0.43,"v":-0.038,"e":0.006},{"s":1,"t":0.44,"v":-0.04,"e":0.006},{"s":1,"t":0.45,"v":-0.042,"e":0.006},{"s":1,"t":0.46,"v":-0.044,"e":0.006},{"s":1,"t":0.47,"v":-0.04,"e":0.006},{"s":1,"t":0.48,"v":-0.044,"e":0.006},{"s":1,"t":0.49,"v":-0.038,"e":0.006},{"s":1,"t":0.5,"v":-0.035,"e":0.006},
{"s":2,"t":-0.1,"v":0.01,"e":0.004},{"s":2,"t":-0.09,"v":0.012,"e":0.004},{"s":2,"t":-0.08,"v":0.006,"e":0.004},{"s":2,"t":-0.07,"v":0.0,"e":0.004},{"s":2,"t":-0.06,"v":0.004,"e":0.004},{"s":2,"t":-0.05,"v":0.0,"e":0.004},{"s":2,"t":-0.04,"v":0.004,"e":0.004},{"s":2,"t":-0.03,"v":0.006,"e":0.004},{"s":2,"t":-0.02,"v":0.002,"e":0.004},{"s":2,"t":-0.01,"v":-0.004,"e":0.004},{"s":2,"t":0,"v":-0.002,"e":0.004},{"s":2,"t":0.01,"v":-0.006,"e":0.004},{"s":2,"t":0.02,"v":-0.008,"e":0.004},{"s":2,"t":0.03,"v":-0.004,"e":0.004},{"s":2,"t":0.04,"v":-0.006,"e":0.004},{"s":2,"t":0.05,"v":-0.002,"e":0.004},{"s":2,"t":0.06,"v":-0.005,"e":0.004},{"s":2,"t":0.07,"v":-0.004,"e":0.004},{"s":2,"t":0.08,"v":-0.01,"e":0.004},{"s":2,"t":0.09,"v":-0.015,"e":0.004},{"s":2,"t":0.1,"v":-0.025,"e":0.007},{"s":2,"t":0.11,"v":-0.035,"e":0.007},{"s":2,"t":0.12,"v":-0.05,"e":0.007},{"s":2,"t":0.13,"v":-0.058,"e":0.007},{"s":2,"t":0.14,"v":-0.05,"e":0.007},{"s":2,"t":0.15,"v":-0.056,"e":0.007},{"s":2,"t":0.16,"v":-0.06,"e":0.007},{"s":2,"t":0.17,"v":-0.058,"e":0.007},{"s":2,"t":0.18,"v":-0.054,"e":0.007},{"s":2,"t":0.19,"v":-0.05,"e":0.007},{"s":2,"t":0.2,"v":-0.046,"e":0.007},{"s":2,"t":0.21,"v":-0.04,"e":0.007},{"s":2,"t":0.22,"v":-0.036,"e":0.007},{"s":2,"t":0.23,"v":-0.04,"e":0.007},{"s":2,"t":0.24,"v":-0.034,"e":0.007},{"s":2,"t":0.25,"v":-0.032,"e":0.007},{"s":2,"t":0.26,"v":-0.036,"e":0.007},{"s":2,"t":0.27,"v":-0.04,"e":0.007},{"s":2,"t":0.28,"v":-0.038,"e":0.007},{"s":2,"t":0.29,"v":-0.042,"e":0.007},{"s":2,"t":0.3,"v":-0.04,"e":0.007},{"s":2,"t":0.31,"v":-0.036,"e":0.007},{"s":2,"t":0.32,"v":-0.04,"e":0.007},{"s":2,"t":0.33,"v":-0.044,"e":0.007},{"s":2,"t":0.34,"v":-0.042,"e":0.007},{"s":2,"t":0.35,"v":-0.046,"e":0.007},{"s":2,"t":0.36,"v":-0.044,"e":0.007},{"s":2,"t":0.37,"v":-0.048,"e":0.007},{"s":2,"t":0.38,"v":-0.05,"e":0.007},{"s":2,"t":0.39,"v":-0.048,"e":0.007},{"s":2,"t":0.4,"v":-0.05,"e":0.007},{"s":2,"t":0.41,"v":-0.046,"e":0.007},{"s":2,"t":0.42,"v":-0.044,"e":0.007},{"s":2,"t":0.43,"v":-0.04,"e":0.007},{"s":2,"t":0.44,"v":-0.042,"e":0.007},{"s":2,"t":0.45,"v":-0.038,"e":0.007},{"s":2,"t":0.46,"v":-0.04,"e":0.007},{"s":2,"t":0.47,"v":-0.036,"e":0.007},{"s":2,"t":0.48,"v":-0.034,"e":0.007},{"s":2,"t":0.49,"v":-0.03,"e":0.007},{"s":2,"t":0.5,"v":-0.032,"e":0.007},
{"s":3,"t":-0.1,"v":0.0,"e":0.004},{"s":3,"t":-0.09,"v":-0.004,"e":0.004},{"s":3,"t":-0.08,"v":0.002,"e":0.004},{"s":3,"t":-0.07,"v":0.0,"e":0.004},{"s":3,"t":-0.06,"v":-0.002,"e":0.004},{"s":3,"t":-0.05,"v":0.002,"e":0.004},{"s":3,"t":-0.04,"v":0.004,"e":0.004},{"s":3,"t":-0.03,"v":0.002,"e":0.004},{"s":3,"t":-0.02,"v":-0.002,"e":0.004},{"s":3,"t":-0.01,"v":0.0,"e":0.004},{"s":3,"t":0,"v":0.002,"e":0.004},{"s":3,"t":0.01,"v":-0.004,"e":0.004},{"s":3,"t":0.02,"v":-0.002,"e":0.004},{"s":3,"t":0.03,"v":-0.006,"e":0.004},{"s":3,"t":0.04,"v":-0.004,"e":0.004},{"s":3,"t":0.05,"v":-0.002,"e":0.004},{"s":3,"t":0.06,"v":0.0,"e":0.004},{"s":3,"t":0.07,"v":0.004,"e":0.004},{"s":3,"t":0.08,"v":0.01,"e":0.004},{"s":3,"t":0.09,"v":-0.002,"e":0.004},{"s":3,"t":0.1,"v":-0.012,"e":0.008},{"s":3,"t":0.11,"v":-0.02,"e":0.008},{"s":3,"t":0.12,"v":-0.036,"e":0.008},{"s":3,"t":0.13,"v":-0.046,"e":0.008},{"s":3,"t":0.14,"v":-0.052,"e":0.008},{"s":3,"t":0.15,"v":-0.06,"e":0.008},{"s":3,"t":0.16,"v":-0.062,"e":0.008},{"s":3,"t":0.17,"v":-0.065,"e":0.008},{"s":3,"t":0.18,"v":-0.062,"e":0.008},{"s":3,"t":0.19,"v":-0.058,"e":0.008},{"s":3,"t":0.2,"v":-0.05,"e":0.008},{"s":3,"t":0.21,"v":-0.044,"e":0.008},{"s":3,"t":0.22,"v":-0.04,"e":0.008},{"s":3,"t":0.23,"v":-0.036,"e":0.008},{"s":3,"t":0.24,"v":-0.032,"e":0.008},{"s":3,"t":0.25,"v":-0.034,"e":0.008},{"s":3,"t":0.26,"v":-0.03,"e":0.008},{"s":3,"t":0.27,"v":-0.028,"e":0.008},{"s":3,"t":0.28,"v":-0.03,"e":0.008},{"s":3,"t":0.29,"v":-0.032,"e":0.008},{"s":3,"t":0.3,"v":-0.03,"e":0.008},{"s":3,"t":0.31,"v":-0.034,"e":0.008},{"s":3,"t":0.32,"v":-0.036,"e":0.008},{"s":3,"t":0.33,"v":-0.034,"e":0.008},{"s":3,"t":0.34,"v":-0.036,"e":0.008},{"s":3,"t":0.35,"v":-0.038,"e":0.008},{"s":3,"t":0.36,"v":-0.036,"e":0.008},{"s":3,"t":0.37,"v":-0.04,"e":0.008},{"s":3,"t":0.38,"v":-0.042,"e":0.008},{"s":3,"t":0.39,"v":-0.044,"e":0.008},{"s":3,"t":0.4,"v":-0.042,"e":0.008},{"s":3,"t":0.41,"v":-0.046,"e":0.008},{"s":3,"t":0.42,"v":-0.044,"e":0.008},{"s":3,"t":0.43,"v":-0.042,"e":0.008},{"s":3,"t":0.44,"v":-0.04,"e":0.008},{"s":3,"t":0.45,"v":-0.04,"e":0.008},{"s":3,"t":0.46,"v":-0.042,"e":0.008},{"s":3,"t":0.47,"v":-0.038,"e":0.008},{"s":3,"t":0.48,"v":-0.036,"e":0.008},{"s":3,"t":0.49,"v":-0.034,"e":0.008},{"s":3,"t":0.5,"v":-0.035,"e":0.008},
{"s":4,"t":-0.1,"v":0.004,"e":0.006},{"s":4,"t":-0.09,"v":0.008,"e":0.006},{"s":4,"t":-0.08,"v":0.0,"e":0.006},{"s":4,"t":-0.07,"v":-0.004,"e":0.006},{"s":4,"t":-0.06,"v":-0.002,"e":0.006},{"s":4,"t":-0.05,"v":0.002,"e":0.006},{"s":4,"t":-0.04,"v":0.008,"e":0.006},{"s":4,"t":-0.03,"v":0.011,"e":0.006},{"s":4,"t":-0.02,"v":0.008,"e":0.006},{"s":4,"t":-0.01,"v":-0.004,"e":0.006},{"s":4,"t":0,"v":-0.018,"e":0.006},{"s":4,"t":0.01,"v":-0.012,"e":0.006},{"s":4,"t":0.02,"v":-0.008,"e":0.006},{"s":4,"t":0.03,"v":-0.012,"e":0.006},{"s":4,"t":0.04,"v":-0.006,"e":0.006},{"s":4,"t":0.05,"v":-0.01,"e":0.006},{"s":4,"t":0.06,"v":-0.008,"e":0.006},{"s":4,"t":0.07,"v":-0.012,"e":0.006},{"s":4,"t":0.08,"v":-0.01,"e":0.006},{"s":4,"t":0.09,"v":-0.014,"e":0.006},{"s":4,"t":0.1,"v":-0.02,"e":0.01},{"s":4,"t":0.11,"v":-0.016,"e":0.01},{"s":4,"t":0.12,"v":-0.022,"e":0.01},{"s":4,"t":0.13,"v":-0.026,"e":0.01},{"s":4,"t":0.14,"v":-0.032,"e":0.01},{"s":4,"t":0.15,"v":-0.045,"e":0.01},{"s":4,"t":0.16,"v":-0.056,"e":0.01},{"s":4,"t":0.17,"v":-0.045,"e":0.01},{"s":4,"t":0.18,"v":-0.035,"e":0.01},{"s":4,"t":0.19,"v":-0.025,"e":0.01},{"s":4,"t":0.2,"v":-0.018,"e":0.01},{"s":4,"t":0.21,"v":-0.022,"e":0.01},{"s":4,"t":0.22,"v":-0.028,"e":0.01},{"s":4,"t":0.23,"v":-0.02,"e":0.01},{"s":4,"t":0.24,"v":-0.014,"e":0.01},{"s":4,"t":0.25,"v":-0.018,"e":0.01},{"s":4,"t":0.26,"v":-0.024,"e":0.01},{"s":4,"t":0.27,"v":-0.016,"e":0.01},{"s":4,"t":0.28,"v":-0.008,"e":0.01},{"s":4,"t":0.29,"v":0.0,"e":0.01},{"s":4,"t":0.3,"v":-0.012,"e":0.01},{"s":4,"t":0.31,"v":-0.02,"e":0.01},{"s":4,"t":0.32,"v":-0.026,"e":0.01},{"s":4,"t":0.33,"v":-0.018,"e":0.01},{"s":4,"t":0.34,"v":-0.012,"e":0.01},{"s":4,"t":0.35,"v":-0.008,"e":0.01},{"s":4,"t":0.36,"v":-0.016,"e":0.01},{"s":4,"t":0.37,"v":-0.024,"e":0.01},{"s":4,"t":0.38,"v":-0.028,"e":0.01},{"s":4,"t":0.39,"v":-0.03,"e":0.01},{"s":4,"t":0.4,"v":-0.032,"e":0.01},{"s":4,"t":0.41,"v":-0.028,"e":0.01},{"s":4,"t":0.42,"v":-0.024,"e":0.01},{"s":4,"t":0.43,"v":-0.026,"e":0.01},{"s":4,"t":0.44,"v":-0.032,"e":0.01},{"s":4,"t":0.45,"v":-0.038,"e":0.01},{"s":4,"t":0.46,"v":-0.042,"e":0.01},{"s":4,"t":0.47,"v":-0.036,"e":0.01},{"s":4,"t":0.48,"v":-0.028,"e":0.01},{"s":4,"t":0.49,"v":-0.018,"e":0.01},{"s":4,"t":0.5,"v":-0.008,"e":0.01},
{"s":5,"t":-0.1,"v":0.006,"e":0.004},{"s":5,"t":-0.09,"v":0.002,"e":0.004},{"s":5,"t":-0.08,"v":0.006,"e":0.004},{"s":5,"t":-0.07,"v":0.004,"e":0.004},{"s":5,"t":-0.06,"v":0.0,"e":0.004},{"s":5,"t":-0.05,"v":0.002,"e":0.004},{"s":5,"t":-0.04,"v":-0.002,"e":0.004},{"s":5,"t":-0.03,"v":0.0,"e":0.004},{"s":5,"t":-0.02,"v":-0.004,"e":0.004},{"s":5,"t":-0.01,"v":-0.006,"e":0.004},{"s":5,"t":0,"v":-0.004,"e":0.004},{"s":5,"t":0.01,"v":-0.008,"e":0.004},{"s":5,"t":0.02,"v":-0.01,"e":0.004},{"s":5,"t":0.03,"v":-0.008,"e":0.004},{"s":5,"t":0.04,"v":-0.012,"e":0.004},{"s":5,"t":0.05,"v":-0.01,"e":0.004},{"s":5,"t":0.06,"v":-0.014,"e":0.004},{"s":5,"t":0.07,"v":-0.02,"e":0.004},{"s":5,"t":0.08,"v":-0.028,"e":0.004},{"s":5,"t":0.09,"v":-0.036,"e":0.006},{"s":5,"t":0.1,"v":-0.046,"e":0.01},{"s":5,"t":0.11,"v":-0.056,"e":0.012},{"s":5,"t":0.12,"v":-0.066,"e":0.015},{"s":5,"t":0.13,"v":-0.072,"e":0.015},{"s":5,"t":0.14,"v":-0.07,"e":0.015},{"s":5,"t":0.15,"v":-0.074,"e":0.015},{"s":5,"t":0.16,"v":-0.07,"e":0.015},{"s":5,"t":0.17,"v":-0.068,"e":0.015},{"s":5,"t":0.18,"v":-0.072,"e":0.015},{"s":5,"t":0.19,"v":-0.07,"e":0.015},{"s":5,"t":0.2,"v":-0.066,"e":0.015},{"s":5,"t":0.21,"v":-0.062,"e":0.012},{"s":5,"t":0.22,"v":-0.058,"e":0.012},{"s":5,"t":0.23,"v":-0.054,"e":0.012},{"s":5,"t":0.24,"v":-0.05,"e":0.012},{"s":5,"t":0.25,"v":-0.046,"e":0.012},{"s":5,"t":0.26,"v":-0.048,"e":0.012},{"s":5,"t":0.27,"v":-0.044,"e":0.012},{"s":5,"t":0.28,"v":-0.046,"e":0.012},{"s":5,"t":0.29,"v":-0.042,"e":0.012},{"s":5,"t":0.3,"v":-0.04,"e":0.012},{"s":5,"t":0.31,"v":-0.044,"e":0.012},{"s":5,"t":0.32,"v":-0.046,"e":0.012},{"s":5,"t":0.33,"v":-0.05,"e":0.012},{"s":5,"t":0.34,"v":-0.048,"e":0.012},{"s":5,"t":0.35,"v":-0.044,"e":0.012},{"s":5,"t":0.36,"v":-0.046,"e":0.012},{"s":5,"t":0.37,"v":-0.05,"e":0.012},{"s":5,"t":0.38,"v":-0.052,"e":0.012},{"s":5,"t":0.39,"v":-0.05,"e":0.012},{"s":5,"t":0.4,"v":-0.056,"e":0.012},{"s":5,"t":0.41,"v":-0.058,"e":0.012},{"s":5,"t":0.42,"v":-0.062,"e":0.012},{"s":5,"t":0.43,"v":-0.056,"e":0.012},{"s":5,"t":0.44,"v":-0.054,"e":0.012},{"s":5,"t":0.45,"v":-0.05,"e":0.012},{"s":5,"t":0.46,"v":-0.052,"e":0.012},{"s":5,"t":0.47,"v":-0.046,"e":0.012},{"s":5,"t":0.48,"v":-0.044,"e":0.012},{"s":5,"t":0.49,"v":-0.048,"e":0.012},{"s":5,"t":0.5,"v":-0.05,"e":0.012}
],
"ra1":[
{"s":1,"t":-0.1,"v":0.012,"e":0.006},{"s":1,"t":-0.08,"v":0.006,"e":0.006},{"s":1,"t":-0.06,"v":0.0,"e":0.006},{"s":1,"t":-0.04,"v":-0.01,"e":0.006},{"s":1,"t":-0.02,"v":0.0,"e":0.006},{"s":1,"t":0,"v":0.001,"e":0.006},{"s":1,"t":0.02,"v":-0.004,"e":0.006},{"s":1,"t":0.04,"v":-0.005,"e":0.006},{"s":1,"t":0.06,"v":-0.01,"e":0.006},{"s":1,"t":0.08,"v":-0.03,"e":0.006},{"s":1,"t":0.1,"v":-0.07,"e":0.012},{"s":1,"t":0.12,"v":-0.14,"e":0.012},{"s":1,"t":0.14,"v":-0.182,"e":0.018},{"s":1,"t":0.16,"v":-0.205,"e":0.018},{"s":1,"t":0.18,"v":-0.19,"e":0.018},{"s":1,"t":0.2,"v":-0.15,"e":0.012},{"s":1,"t":0.22,"v":-0.128,"e":0.012},{"s":1,"t":0.24,"v":-0.12,"e":0.012},{"s":1,"t":0.26,"v":-0.125,"e":0.012},{"s":1,"t":0.28,"v":-0.128,"e":0.012},{"s":1,"t":0.3,"v":-0.125,"e":0.012},{"s":1,"t":0.32,"v":-0.126,"e":0.012},{"s":1,"t":0.34,"v":-0.122,"e":0.012},{"s":1,"t":0.36,"v":-0.12,"e":0.012},{"s":1,"t":0.38,"v":-0.115,"e":0.012},{"s":1,"t":0.4,"v":-0.11,"e":0.012},{"s":1,"t":0.42,"v":-0.105,"e":0.012},{"s":1,"t":0.44,"v":-0.1,"e":0.012},{"s":1,"t":0.46,"v":-0.1,"e":0.012},{"s":1,"t":0.48,"v":-0.105,"e":0.012},{"s":1,"t":0.5,"v":-0.11,"e":0.012},
{"s":2,"t":-0.1,"v":0.002,"e":0.005},{"s":2,"t":-0.08,"v":0.0,"e":0.005},{"s":2,"t":-0.06,"v":0.003,"e":0.005},{"s":2,"t":-0.04,"v":-0.002,"e":0.005},{"s":2,"t":-0.02,"v":0.002,"e":0.005},{"s":2,"t":0,"v":0.0,"e":0.005},{"s":2,"t":0.02,"v":0.003,"e":0.005},{"s":2,"t":0.04,"v":0.002,"e":0.005},{"s":2,"t":0.06,"v":0.006,"e":0.005},{"s":2,"t":0.08,"v":0.002,"e":0.005},{"s":2,"t":0.1,"v":-0.04,"e":0.014},{"s":2,"t":0.12,"v":-0.11,"e":0.014},{"s":2,"t":0.14,"v":-0.13,"e":0.014},{"s":2,"t":0.16,"v":-0.13,"e":0.014},{"s":2,"t":0.18,"v":-0.122,"e":0.014},{"s":2,"t":0.2,"v":-0.1,"e":0.014},{"s":2,"t":0.22,"v":-0.09,"e":0.014},{"s":2,"t":0.24,"v":-0.08,"e":0.014},{"s":2,"t":0.26,"v":-0.08,"e":0.014},{"s":2,"t":0.28,"v":-0.085,"e":0.014},{"s":2,"t":0.3,"v":-0.09,"e":0.014},{"s":2,"t":0.32,"v":-0.098,"e":0.014},{"s":2,"t":0.34,"v":-0.1,"e":0.014},{"s":2,"t":0.36,"v":-0.105,"e":0.014},{"s":2,"t":0.38,"v":-0.105,"e":0.014},{"s":2,"t":0.4,"v":-0.105,"e":0.014},{"s":2,"t":0.42,"v":-0.11,"e":0.014},{"s":2,"t":0.44,"v":-0.1,"e":0.014},{"s":2,"t":0.46,"v":-0.1,"e":0.014},{"s":2,"t":0.48,"v":-0.105,"e":0.014},{"s":2,"t":0.5,"v":-0.105,"e":0.014},
{"s":3,"t":-0.1,"v":0.0,"e":0.006},{"s":3,"t":-0.08,"v":0.002,"e":0.006},{"s":3,"t":-0.06,"v":-0.002,"e":0.006},{"s":3,"t":-0.04,"v":0.003,"e":0.006},{"s":3,"t":-0.02,"v":0.001,"e":0.006},{"s":3,"t":0,"v":0.004,"e":0.006},{"s":3,"t":0.02,"v":0.002,"e":0.006},{"s":3,"t":0.04,"v":0.006,"e":0.006},{"s":3,"t":0.06,"v":0.012,"e":0.006},{"s":3,"t":0.08,"v":0.03,"e":0.006},{"s":3,"t":0.1,"v":0.01,"e":0.016},{"s":3,"t":0.12,"v":-0.06,"e":0.016},{"s":3,"t":0.14,"v":-0.09,"e":0.016},{"s":3,"t":0.16,"v":-0.095,"e":0.016},{"s":3,"t":0.18,"v":-0.085,"e":0.016},{"s":3,"t":0.2,"v":-0.08,"e":0.016},{"s":3,"t":0.22,"v":-0.07,"e":0.016},{"s":3,"t":0.24,"v":-0.06,"e":0.016},{"s":3,"t":0.26,"v":-0.05,"e":0.016},{"s":3,"t":0.28,"v":-0.05,"e":0.016},{"s":3,"t":0.3,"v":-0.048,"e":0.016},{"s":3,"t":0.32,"v":-0.055,"e":0.016},{"s":3,"t":0.34,"v":-0.065,"e":0.016},{"s":3,"t":0.36,"v":-0.07,"e":0.016},{"s":3,"t":0.38,"v":-0.075,"e":0.016},{"s":3,"t":0.4,"v":-0.08,"e":0.016},{"s":3,"t":0.42,"v":-0.09,"e":0.016},{"s":3,"t":0.44,"v":-0.1,"e":0.016},{"s":3,"t":0.46,"v":-0.1,"e":0.016},{"s":3,"t":0.48,"v":-0.105,"e":0.016},{"s":3,"t":0.5,"v":-0.105,"e":0.016},
{"s":4,"t":-0.1,"v":-0.015,"e":0.012},{"s":4,"t":-0.08,"v":0.0,"e":0.012},{"s":4,"t":-0.06,"v":0.005,"e":0.012},{"s":4,"t":-0.04,"v":0.015,"e":0.012},{"s":4,"t":-0.02,"v":0.0,"e":0.012},{"s":4,"t":0,"v":0.005,"e":0.012},{"s":4,"t":0.02,"v":-0.005,"e":0.012},{"s":4,"t":0.04,"v":0.0,"e":0.012},{"s":4,"t":0.06,"v":0.002,"e":0.012},{"s":4,"t":0.08,"v":0.015,"e":0.012},{"s":4,"t":0.1,"v":-0.01,"e":0.022},{"s":4,"t":0.12,"v":-0.08,"e":0.022},{"s":4,"t":0.14,"v":-0.11,"e":0.022},{"s":4,"t":0.16,"v":-0.1,"e":0.022},{"s":4,"t":0.18,"v":-0.1,"e":0.022},{"s":4,"t":0.2,"v":-0.11,"e":0.022},{"s":4,"t":0.22,"v":-0.1,"e":0.022},{"s":4,"t":0.24,"v":-0.095,"e":0.022},{"s":4,"t":0.26,"v":-0.085,"e":0.022},{"s":4,"t":0.28,"v":-0.1,"e":0.022},{"s":4,"t":0.3,"v":-0.115,"e":0.022},{"s":4,"t":0.32,"v":-0.11,"e":0.022},{"s":4,"t":0.34,"v":-0.115,"e":0.022},{"s":4,"t":0.36,"v":-0.12,"e":0.022},{"s":4,"t":0.38,"v":-0.13,"e":0.022},{"s":4,"t":0.4,"v":-0.135,"e":0.022},{"s":4,"t":0.42,"v":-0.13,"e":0.022},{"s":4,"t":0.44,"v":-0.14,"e":0.022},{"s":4,"t":0.46,"v":-0.155,"e":0.022},{"s":4,"t":0.48,"v":-0.16,"e":0.022},{"s":4,"t":0.5,"v":-0.15,"e":0.022},
{"s":5,"t":-0.1,"v":0.0,"e":0.006},{"s":5,"t":-0.08,"v":0.002,"e":0.006},{"s":5,"t":-0.06,"v":-0.001,"e":0.006},{"s":5,"t":-0.04,"v":0.002,"e":0.006},{"s":5,"t":-0.02,"v":0.0,"e":0.006},{"s":5,"t":0,"v":0.001,"e":0.006},{"s":5,"t":0.02,"v":-0.002,"e":0.006},{"s":5,"t":0.04,"v":-0.005,"e":0.006},{"s":5,"t":0.06,"v":-0.01,"e":0.006},{"s":5,"t":0.08,"v":-0.02,"e":0.006},{"s":5,"t":0.1,"v":-0.06,"e":0.014},{"s":5,"t":0.12,"v":-0.12,"e":0.014},{"s":5,"t":0.14,"v":-0.135,"e":0.014},{"s":5,"t":0.16,"v":-0.13,"e":0.014},{"s":5,"t":0.18,"v":-0.12,"e":0.014},{"s":5,"t":0.2,"v":-0.105,"e":0.014},{"s":5,"t":0.22,"v":-0.11,"e":0.014},{"s":5,"t":0.24,"v":-0.115,"e":0.014},{"s":5,"t":0.26,"v":-0.12,"e":0.014},{"s":5,"t":0.28,"v":-0.125,"e":0.014},{"s":5,"t":0.3,"v":-0.125,"e":0.014},{"s":5,"t":0.32,"v":-0.125,"e":0.014},{"s":5,"t":0.34,"v":-0.125,"e":0.014},{"s":5,"t":0.36,"v":-0.125,"e":0.014},{"s":5,"t":0.38,"v":-0.12,"e":0.014},{"s":5,"t":0.4,"v":-0.125,"e":0.014},{"s":5,"t":0.42,"v":-0.125,"e":0.014},{"s":5,"t":0.44,"v":-0.125,"e":0.014},{"s":5,"t":0.46,"v":-0.125,"e":0.014},{"s":5,"t":0.48,"v":-0.13,"e":0.014},{"s":5,"t":0.5,"v":-0.13,"e":0.014}
],
"rstg":[
{"s":1,"t":-0.1,"v":0.02,"e":0.01},{"s":1,"t":-0.08,"v":0.01,"e":0.01},{"s":1,"t":-0.06,"v":0.005,"e":0.01},{"s":1,"t":-0.04,"v":-0.005,"e":0.01},{"s":1,"t":-0.02,"v":0.0,"e":0.01},{"s":1,"t":0,"v":-0.01,"e":0.01},{"s":1,"t":0.02,"v":-0.015,"e":0.01},{"s":1,"t":0.04,"v":-0.01,"e":0.01},{"s":1,"t":0.06,"v":-0.02,"e":0.01},{"s":1,"t":0.08,"v":-0.04,"e":0.01},{"s":1,"t":0.1,"v":-0.1,"e":0.02},{"s":1,"t":0.12,"v":-0.2,"e":0.02},{"s":1,"t":0.14,"v":-0.245,"e":0.02},{"s":1,"t":0.16,"v":-0.255,"e":0.02},{"s":1,"t":0.18,"v":-0.22,"e":0.02},{"s":1,"t":0.2,"v":-0.17,"e":0.02},{"s":1,"t":0.22,"v":-0.15,"e":0.02},{"s":1,"t":0.24,"v":-0.15,"e":0.02},{"s":1,"t":0.26,"v":-0.155,"e":0.02},{"s":1,"t":0.28,"v":-0.16,"e":0.02},{"s":1,"t":0.3,"v":-0.16,"e":0.02},{"s":1,"t":0.32,"v":-0.155,"e":0.02},{"s":1,"t":0.34,"v":-0.15,"e":0.02},{"s":1,"t":0.36,"v":-0.15,"e":0.02},{"s":1,"t":0.38,"v":-0.14,"e":0.02},{"s":1,"t":0.4,"v":-0.13,"e":0.02},{"s":1,"t":0.42,"v":-0.12,"e":0.02},{"s":1,"t":0.44,"v":-0.11,"e":0.02},{"s":1,"t":0.46,"v":-0.1,"e":0.02},{"s":1,"t":0.48,"v":-0.09,"e":0.02},{"s":1,"t":0.5,"v":-0.095,"e":0.02},
{"s":2,"t":-0.1,"v":0.01,"e":0.008},{"s":2,"t":-0.08,"v":0.005,"e":0.008},{"s":2,"t":-0.06,"v":0.002,"e":0.008},{"s":2,"t":-0.04,"v":0.0,"e":0.008},{"s":2,"t":-0.02,"v":-0.002,"e":0.008},{"s":2,"t":0,"v":0.0,"e":0.008},{"s":2,"t":0.02,"v":-0.003,"e":0.008},{"s":2,"t":0.04,"v":-0.005,"e":0.008},{"s":2,"t":0.06,"v":-0.01,"e":0.008},{"s":2,"t":0.08,"v":-0.02,"e":0.008},{"s":2,"t":0.1,"v":-0.07,"e":0.03},{"s":2,"t":0.12,"v":-0.15,"e":0.03},{"s":2,"t":0.14,"v":-0.165,"e":0.03},{"s":2,"t":0.16,"v":-0.16,"e":0.03},{"s":2,"t":0.18,"v":-0.15,"e":0.03},{"s":2,"t":0.2,"v":-0.13,"e":0.03},{"s":2,"t":0.22,"v":-0.11,"e":0.03},{"s":2,"t":0.24,"v":-0.105,"e":0.03},{"s":2,"t":0.26,"v":-0.105,"e":0.03},{"s":2,"t":0.28,"v":-0.11,"e":0.03},{"s":2,"t":0.3,"v":-0.115,"e":0.03},{"s":2,"t":0.32,"v":-0.125,"e":0.03},{"s":2,"t":0.34,"v":-0.135,"e":0.03},{"s":2,"t":0.36,"v":-0.135,"e":0.03},{"s":2,"t":0.38,"v":-0.14,"e":0.03},{"s":2,"t":0.4,"v":-0.135,"e":0.03},{"s":2,"t":0.42,"v":-0.13,"e":0.03},{"s":2,"t":0.44,"v":-0.135,"e":0.03},{"s":2,"t":0.46,"v":-0.13,"e":0.03},{"s":2,"t":0.48,"v":-0.13,"e":0.03},{"s":2,"t":0.5,"v":-0.13,"e":0.03},
{"s":3,"t":-0.1,"v":-0.01,"e":0.01},{"s":3,"t":-0.08,"v":0.0,"e":0.01},{"s":3,"t":-0.06,"v":0.005,"e":0.01},{"s":3,"t":-0.04,"v":0.0,"e":0.01},{"s":3,"t":-0.02,"v":0.002,"e":0.01},{"s":3,"t":0,"v":-0.005,"e":0.01},{"s":3,"t":0.02,"v":0.0,"e":0.01},{"s":3,"t":0.04,"v":0.0,"e":0.01},{"s":3,"t":0.06,"v":0.01,"e":0.01},{"s":3,"t":0.08,"v":0.015,"e":0.01},{"s":3,"t":0.1,"v":-0.02,"e":0.035},{"s":3,"t":0.12,"v":-0.15,"e":0.035},{"s":3,"t":0.14,"v":-0.23,"e":0.035},{"s":3,"t":0.16,"v":-0.22,"e":0.035},{"s":3,"t":0.18,"v":-0.2,"e":0.035},{"s":3,"t":0.2,"v":-0.15,"e":0.035},{"s":3,"t":0.22,"v":-0.12,"e":0.035},{"s":3,"t":0.24,"v":-0.11,"e":0.035},{"s":3,"t":0.26,"v":-0.105,"e":0.035},{"s":3,"t":0.28,"v":-0.11,"e":0.035},{"s":3,"t":0.3,"v":-0.12,"e":0.035},{"s":3,"t":0.32,"v":-0.14,"e":0.035},{"s":3,"t":0.34,"v":-0.16,"e":0.035},{"s":3,"t":0.36,"v":-0.17,"e":0.035},{"s":3,"t":0.38,"v":-0.18,"e":0.04},{"s":3,"t":0.4,"v":-0.2,"e":0.045},{"s":3,"t":0.42,"v":-0.21,"e":0.05},{"s":3,"t":0.44,"v":-0.21,"e":0.06},{"s":3,"t":0.46,"v":-0.21,"e":0.06},{"s":3,"t":0.48,"v":-0.225,"e":0.06},{"s":3,"t":0.5,"v":-0.215,"e":0.06},
{"s":4,"t":-0.1,"v":0.01,"e":0.012},{"s":4,"t":-0.08,"v":0.005,"e":0.012},{"s":4,"t":-0.06,"v":-0.005,"e":0.012},{"s":4,"t":-0.04,"v":-0.01,"e":0.012},{"s":4,"t":-0.02,"v":-0.005,"e":0.012},{"s":4,"t":0,"v":-0.01,"e":0.012},{"s":4,"t":0.02,"v":-0.015,"e":0.012},{"s":4,"t":0.04,"v":-0.005,"e":0.012},{"s":4,"t":0.06,"v":-0.01,"e":0.012},{"s":4,"t":0.08,"v":-0.03,"e":0.012},{"s":4,"t":0.1,"v":-0.1,"e":0.05},{"s":4,"t":0.12,"v":-0.23,"e":0.08},{"s":4,"t":0.14,"v":-0.27,"e":0.08},{"s":4,"t":0.16,"v":-0.265,"e":0.07},{"s":4,"t":0.18,"v":-0.23,"e":0.06},{"s":4,"t":0.2,"v":-0.205,"e":0.055},{"s":4,"t":0.22,"v":-0.19,"e":0.05},{"s":4,"t":0.24,"v":-0.18,"e":0.05},{"s":4,"t":0.26,"v":-0.19,"e":0.05},{"s":4,"t":0.28,"v":-0.2,"e":0.05},{"s":4,"t":0.3,"v":-0.195,"e":0.05},{"s":4,"t":0.32,"v":-0.21,"e":0.05},{"s":4,"t":0.34,"v":-0.2,"e":0.05},{"s":4,"t":0.36,"v":-0.2,"e":0.05},{"s":4,"t":0.38,"v":-0.2,"e":0.05},{"s":4,"t":0.4,"v":-0.2,"e":0.05},{"s":4,"t":0.42,"v":-0.19,"e":0.05},{"s":4,"t":0.44,"v":-0.2,"e":0.05},{"s":4,"t":0.46,"v":-0.2,"e":0.05},{"s":4,"t":0.48,"v":-0.185,"e":0.05},{"s":4,"t":0.5,"v":-0.16,"e":0.05},
{"s":5,"t":-0.1,"v":0.005,"e":0.01},{"s":5,"t":-0.08,"v":0.0,"e":0.01},{"s":5,"t":-0.06,"v":0.002,"e":0.01},{"s":5,"t":-0.04,"v":-0.005,"e":0.01},{"s":5,"t":-0.02,"v":0.0,"e":0.01},{"s":5,"t":0,"v":0.002,"e":0.01},{"s":5,"t":0.02,"v":0.0,"e":0.01},{"s":5,"t":0.04,"v":-0.005,"e":0.01},{"s":5,"t":0.06,"v":-0.005,"e":0.01},{"s":5,"t":0.08,"v":-0.01,"e":0.01},{"s":5,"t":0.1,"v":-0.06,"e":0.03},{"s":5,"t":0.12,"v":-0.15,"e":0.03},{"s":5,"t":0.14,"v":-0.18,"e":0.03},{"s":5,"t":0.16,"v":-0.17,"e":0.03},{"s":5,"t":0.18,"v":-0.16,"e":0.03},{"s":5,"t":0.2,"v":-0.13,"e":0.03},{"s":5,"t":0.22,"v":-0.115,"e":0.03},{"s":5,"t":0.24,"v":-0.135,"e":0.03},{"s":5,"t":0.26,"v":-0.135,"e":0.03},{"s":5,"t":0.28,"v":-0.13,"e":0.03},{"s":5,"t":0.3,"v":-0.135,"e":0.03},{"s":5,"t":0.32,"v":-0.13,"e":0.03},{"s":5,"t":0.34,"v":-0.14,"e":0.03},{"s":5,"t":0.36,"v":-0.15,"e":0.03},{"s":5,"t":0.38,"v":-0.145,"e":0.03},{"s":5,"t":0.4,"v":-0.135,"e":0.03},{"s":5,"t":0.42,"v":-0.14,"e":0.03},{"s":5,"t":0.44,"v":-0.13,"e":0.03},{"s":5,"t":0.46,"v":-0.135,"e":0.03},{"s":5,"t":0.48,"v":-0.14,"e":0.03},{"s":5,"t":0.5,"v":-0.14,"e":0.03}
],
"rifg":[
{"s":1,"t":-0.1,"v":0.006,"e":0.006},{"s":1,"t":-0.09,"v":0.002,"e":0.006},{"s":1,"t":-0.08,"v":0.004,"e":0.006},{"s":1,"t":-0.07,"v":0.0,"e":0.006},{"s":1,"t":-0.06,"v":0.003,"e":0.006},{"s":1,"t":-0.05,"v":-0.002,"e":0.006},{"s":1,"t":-0.04,"v":0.002,"e":0.006},{"s":1,"t":-0.03,"v":0.0,"e":0.006},{"s":1,"t":-0.02,"v":0.004,"e":0.006},{"s":1,"t":-0.01,"v":0.0,"e":0.006},{"s":1,"t":0,"v":0.002,"e":0.006},{"s":1,"t":0.01,"v":-0.002,"e":0.006},{"s":1,"t":0.02,"v":0.0,"e":0.006},{"s":1,"t":0.03,"v":-0.004,"e":0.006},{"s":1,"t":0.04,"v":-0.002,"e":0.006},{"s":1,"t":0.05,"v":-0.006,"e":0.006},{"s":1,"t":0.06,"v":-0.01,"e":0.006},{"s":1,"t":0.07,"v":-0.015,"e":0.006},{"s":1,"t":0.08,"v":-0.02,"e":0.006},{"s":1,"t":0.09,"v":-0.028,"e":0.006},{"s":1,"t":0.1,"v":-0.035,"e":0.01},{"s":1,"t":0.11,"v":-0.04,"e":0.01},{"s":1,"t":0.12,"v":-0.045,"e":0.01},{"s":1,"t":0.13,"v":-0.048,"e":0.01},{"s":1,"t":0.14,"v":-0.05,"e":0.01},{"s":1,"t":0.15,"v":-0.046,"e":0.01},{"s":1,"t":0.16,"v":-0.044,"e":0.01},{"s":1,"t":0.17,"v":-0.036,"e":0.01},{"s":1,"t":0.18,"v":-0.03,"e":0.01},{"s":1,"t":0.19,"v":-0.028,"e":0.01},{"s":1,"t":0.2,"v":-0.025,"e":0.01},{"s":1,"t":0.21,"v":-0.022,"e":0.01},{"s":1,"t":0.22,"v":-0.026,"e":0.01},{"s":1,"t":0.23,"v":-0.024,"e":0.01},{"s":1,"t":0.24,"v":-0.028,"e":0.01},{"s":1,"t":0.25,"v":-0.025,"e":0.01},{"s":1,"t":0.26,"v":-0.028,"e":0.01},{"s":1,"t":0.27,"v":-0.026,"e":0.01},{"s":1,"t":0.28,"v":-0.03,"e":0.01},{"s":1,"t":0.29,"v":-0.028,"e":0.01},{"s":1,"t":0.3,"v":-0.032,"e":0.01},{"s":1,"t":0.31,"v":-0.03,"e":0.01},{"s":1,"t":0.32,"v":-0.034,"e":0.01},{"s":1,"t":0.33,"v":-0.036,"e":0.01},{"s":1,"t":0.34,"v":-0.034,"e":0.01},{"s":1,"t":0.35,"v":-0.038,"e":0.01},{"s":1,"t":0.36,"v":-0.036,"e":0.01},{"s":1,"t":0.37,"v":-0.04,"e":0.01},{"s":1,"t":0.38,"v":-0.038,"e":0.01},{"s":1,"t":0.39,"v":-0.04,"e":0.01},{"s":1,"t":0.4,"v":-0.038,"e":0.01},{"s":1,"t":0.41,"v":-0.036,"e":0.01},{"s":1,"t":0.42,"v":-0.034,"e":0.01},{"s":1,"t":0.43,"v":-0.032,"e":0.01},{"s":1,"t":0.44,"v":-0.03,"e":0.01},{"s":1,"t":0.45,"v":-0.03,"e":0.01},{"s":1,"t":0.46,"v":-0.028,"e":0.01},{"s":1,"t":0.47,"v":-0.026,"e":0.01},{"s":1,"t":0.48,"v":-0.028,"e":0.01},{"s":1,"t":0.49,"v":-0.024,"e":0.01},{"s":1,"t":0.5,"v":-0.025,"e":0.01},
{"s":2,"t":-0.1,"v":0.012,"e":0.006},{"s":2,"t":-0.09,"v":0.008,"e":0.006},{"s":2,"t":-0.08,"v":0.01,"e":0.006},{"s":2,"t":-0.07,"v":0.004,"e":0.006},{"s":2,"t":-0.06,"v":0.006,"e":0.006},{"s":2,"t":-0.05,"v":0.002,"e":0.006},{"s":2,"t":-0.04,"v":0.006,"e":0.006},{"s":2,"t":-0.03,"v":0.002,"e":0.006},{"s":2,"t":-0.02,"v":0.004,"e":0.006},{"s":2,"t":-0.01,"v":0.0,"e":0.006},{"s":2,"t":0,"v":0.002,"e":0.006},{"s":2,"t":0.01,"v":-0.002,"e":0.006},{"s":2,"t":0.02,"v":0.0,"e":0.006},{"s":2,"t":0.03,"v":-0.004,"e":0.006},{"s":2,"t":0.04,"v":-0.006,"e":0.006},{"s":2,"t":0.05,"v":-0.008,"e":0.006},{"s":2,"t":0.06,"v":-0.012,"e":0.006},{"s":2,"t":0.07,"v":-0.018,"e":0.006},{"s":2,"t":0.08,"v":-0.026,"e":0.006},{"s":2,"t":0.09,"v":-0.028,"e":0.006},{"s":2,"t":0.1,"v":-0.032,"e":0.01},{"s":2,"t":0.11,"v":-0.036,"e":0.01},{"s":2,"t":0.12,"v":-0.04,"e":0.01},{"s":2,"t":0.13,"v":-0.036,"e":0.01},{"s":2,"t":0.14,"v":-0.032,"e":0.01},{"s":2,"t":0.15,"v":-0.03,"e":0.01},{"s":2,"t":0.16,"v":-0.026,"e":0.01},{"s":2,"t":0.17,"v":-0.024,"e":0.01},{"s":2,"t":0.18,"v":-0.02,"e":0.01},{"s":2,"t":0.19,"v":-0.022,"e":0.01},{"s":2,"t":0.2,"v":-0.018,"e":0.01},{"s":2,"t":0.21,"v":-0.02,"e":0.01},{"s":2,"t":0.22,"v":-0.024,"e":0.01},{"s":2,"t":0.23,"v":-0.022,"e":0.01},{"s":2,"t":0.24,"v":-0.026,"e":0.01},{"s":2,"t":0.25,"v":-0.024,"e":0.01},{"s":2,"t":0.26,"v":-0.028,"e":0.01},{"s":2,"t":0.27,"v":-0.03,"e":0.01},{"s":2,"t":0.28,"v":-0.034,"e":0.01},{"s":2,"t":0.29,"v":-0.032,"e":0.01},{"s":2,"t":0.3,"v":-0.036,"e":0.01},{"s":2,"t":0.31,"v":-0.038,"e":0.01},{"s":2,"t":0.32,"v":-0.04,"e":0.01},{"s":2,"t":0.33,"v":-0.038,"e":0.01},{"s":2,"t":0.34,"v":-0.042,"e":0.01},{"s":2,"t":0.35,"v":-0.04,"e":0.01},{"s":2,"t":0.36,"v":-0.038,"e":0.01},{"s":2,"t":0.37,"v":-0.036,"e":0.01},{"s":2,"t":0.38,"v":-0.034,"e":0.01},{"s":2,"t":0.39,"v":-0.036,"e":0.01},{"s":2,"t":0.4,"v":-0.034,"e":0.01},{"s":2,"t":0.41,"v":-0.03,"e":0.01},{"s":2,"t":0.42,"v":-0.028,"e":0.01},{"s":2,"t":0.43,"v":-0.026,"e":0.01},{"s":2,"t":0.44,"v":-0.028,"e":0.01},{"s":2,"t":0.45,"v":-0.024,"e":0.01},{"s":2,"t":0.46,"v":-0.022,"e":0.01},{"s":2,"t":0.47,"v":-0.024,"e":0.01},{"s":2,"t":0.48,"v":-0.02,"e":0.01},{"s":2,"t":0.49,"v":-0.022,"e":0.01},{"s":2,"t":0.5,"v":-0.02,"e":0.01},
{"s":3,"t":-0.1,"v":0.002,"e":0.008},{"s":3,"t":-0.09,"v":-0.002,"e":0.008},{"s":3,"t":-0.08,"v":0.0,"e":0.008},{"s":3,"t":-0.07,"v":-0.004,"e":0.008},{"s":3,"t":-0.06,"v":-0.002,"e":0.008},{"s":3,"t":-0.05,"v":-0.006,"e":0.008},{"s":3,"t":-0.04,"v":-0.004,"e":0.008},{"s":3,"t":-0.03,"v":-0.008,"e":0.008},{"s":3,"t":-0.02,"v":-0.006,"e":0.008},{"s":3,"t":-0.01,"v":-0.01,"e":0.008},{"s":3,"t":0,"v":-0.008,"e":0.008},{"s":3,"t":0.01,"v":-0.012,"e":0.008},{"s":3,"t":0.02,"v":-0.014,"e":0.008},{"s":3,"t":0.03,"v":-0.016,"e":0.01},{"s":3,"t":0.04,"v":-0.02,"e":0.012},{"s":3,"t":0.05,"v":-0.026,"e":0.014},{"s":3,"t":0.06,"v":-0.032,"e":0.016},{"s":3,"t":0.07,"v":-0.042,"e":0.018},{"s":3,"t":0.08,"v":-0.036,"e":0.02},{"s":3,"t":0.09,"v":-0.034,"e":0.022},{"s":3,"t":0.1,"v":-0.05,"e":0.025},{"s":3,"t":0.11,"v":-0.054,"e":0.03},{"s":3,"t":0.12,"v":-0.06,"e":0.035},{"s":3,"t":0.13,"v":-0.058,"e":0.045},{"s":3,"t":0.14,"v":-0.064,"e":0.05},{"s":3,"t":0.15,"v":-0.068,"e":0.04},{"s":3,"t":0.16,"v":-0.072,"e":0.05},{"s":3,"t":0.17,"v":-0.062,"e":0.04},{"s":3,"t":0.18,"v":-0.058,"e":0.045},{"s":3,"t":0.19,"v":-0.066,"e":0.04},{"s":3,"t":0.2,"v":-0.072,"e":0.05},{"s":3,"t":0.21,"v":-0.07,"e":0.045},{"s":3,"t":0.22,"v":-0.08,"e":0.05},{"s":3,"t":0.23,"v":-0.076,"e":0.06},{"s":3,"t":0.24,"v":-0.07,"e":0.055},{"s":3,"t":0.25,"v":-0.078,"e":0.06},{"s":3,"t":0.26,"v":-0.074,"e":0.05},{"s":3,"t":0.27,"v":-0.082,"e":0.06},{"s":3,"t":0.28,"v":-0.078,"e":0.05},{"s":3,"t":0.29,"v":-0.07,"e":0.055},{"s":3,"t":0.3,"v":-0.08,"e":0.06},{"s":3,"t":0.31,"v":-0.084,"e":0.055},{"s":3,"t":0.32,"v":-0.086,"e":0.065},{"s":3,"t":0.33,"v":-0.076,"e":0.055},{"s":3,"t":0.34,"v":-0.08,"e":0.06},{"s":3,"t":0.35,"v":-0.072,"e":0.05},{"s":3,"t":0.36,"v":-0.078,"e":0.055},{"s":3,"t":0.37,"v":-0.082,"e":0.05},{"s":3,"t":0.38,"v":-0.076,"e":0.055},{"s":3,"t":0.39,"v":-0.084,"e":0.05},{"s":3,"t":0.4,"v":-0.078,"e":0.055},{"s":3,"t":0.41,"v":-0.086,"e":0.05},{"s":3,"t":0.42,"v":-0.082,"e":0.055},{"s":3,"t":0.43,"v":-0.076,"e":0.05},{"s":3,"t":0.44,"v":-0.08,"e":0.045},{"s":3,"t":0.45,"v":-0.072,"e":0.05},{"s":3,"t":0.46,"v":-0.068,"e":0.045},{"s":3,"t":0.47,"v":-0.064,"e":0.05},{"s":3,"t":0.48,"v":-0.066,"e":0.055},{"s":3,"t":0.49,"v":-0.074,"e":0.06},{"s":3,"t":0.5,"v":-0.082,"e":0.06},
{"s":4,"t":-0.1,"v":-0.012,"e":0.02},{"s":4,"t":-0.09,"v":0.018,"e":0.02},{"s":4,"t":-0.08,"v":0.006,"e":0.02},{"s":4,"t":-0.07,"v":0.016,"e":0.02},{"s":4,"t":-0.06,"v":0.002,"e":0.02},{"s":4,"t":-0.05,"v":0.008,"e":0.02},{"s":4,"t":-0.04,"v":0.016,"e":0.02},{"s":4,"t":-0.03,"v":0.012,"e":0.02},{"s":4,"t":-0.02,"v":0.0,"e":0.02},{"s":4,"t":-0.01,"v":-0.02,"e":0.02},{"s":4,"t":0,"v":0.004,"e":0.02},{"s":4,"t":0.01,"v":0.016,"e":0.02},{"s":4,"t":0.02,"v":0.01,"e":0.02},{"s":4,"t":0.03,"v":0.014,"e":0.02},{"s":4,"t":0.04,"v":0.004,"e":0.02},{"s":4,"t":0.05,"v":0.0,"e":0.02},{"s":4,"t":0.06,"v":0.008,"e":0.02},{"s":4,"t":0.07,"v":0.012,"e":0.02},{"s":4,"t":0.08,"v":0.018,"e":0.02},{"s":4,"t":0.09,"v":0.024,"e":0.02},{"s":4,"t":0.1,"v":0.03,"e":0.035},{"s":4,"t":0.11,"v":0.012,"e":0.035},{"s":4,"t":0.12,"v":-0.018,"e":0.035},{"s":4,"t":0.13,"v":-0.03,"e":0.035},{"s":4,"t":0.14,"v":-0.042,"e":0.035},{"s":4,"t":0.15,"v":-0.075,"e":0.035},{"s":4,"t":0.16,"v":-0.045,"e":0.035},{"s":4,"t":0.17,"v":-0.03,"e":0.035},{"s":4,"t":0.18,"v":-0.02,"e":0.035},{"s":4,"t":0.19,"v":-0.026,"e":0.035},{"s":4,"t":0.2,"v":-0.028,"e":0.035},{"s":4,"t":0.21,"v":-0.04,"e":0.035},{"s":4,"t":0.22,"v":-0.05,"e":0.035},{"s":4,"t":0.23,"v":-0.056,"e":0.035},{"s":4,"t":0.24,"v":-0.06,"e":0.035},{"s":4,"t":0.25,"v":-0.05,"e":0.035},{"s":4,"t":0.26,"v":-0.036,"e":0.035},{"s":4,"t":0.27,"v":-0.02,"e":0.05},{"s":4,"t":0.28,"v":-0.008,"e":0.06},{"s":4,"t":0.29,"v":-0.018,"e":0.04},{"s":4,"t":0.3,"v":-0.022,"e":0.035},{"s":4,"t":0.31,"v":-0.014,"e":0.035},{"s":4,"t":0.32,"v":-0.008,"e":0.035},{"s":4,"t":0.33,"v":-0.012,"e":0.035},{"s":4,"t":0.34,"v":-0.004,"e":0.035},{"s":4,"t":0.35,"v":0.0,"e":0.035},{"s":4,"t":0.36,"v":-0.008,"e":0.035},{"s":4,"t":0.37,"v":-0.012,"e":0.035},{"s":4,"t":0.38,"v":-0.006,"e":0.035},{"s":4,"t":0.39,"v":0.002,"e":0.035},{"s":4,"t":0.4,"v":-0.004,"e":0.035},{"s":4,"t":0.41,"v":-0.012,"e":0.035},{"s":4,"t":0.42,"v":-0.008,"e":0.035},{"s":4,"t":0.43,"v":-0.018,"e":0.035},{"s":4,"t":0.44,"v":-0.022,"e":0.035},{"s":4,"t":0.45,"v":-0.012,"e":0.035},{"s":4,"t":0.46,"v":-0.004,"e":0.035},{"s":4,"t":0.47,"v":-0.014,"e":0.035},{"s":4,"t":0.48,"v":-0.02,"e":0.035},{"s":4,"t":0.49,"v":-0.026,"e":0.035},{"s":4,"t":0.5,"v":-0.03,"e":0.035},
{"s":5,"t":-0.1,"v":0.006,"e":0.01},{"s":5,"t":-0.09,"v":0.002,"e":0.01},{"s":5,"t":-0.08,"v":0.004,"e":0.01},{"s":5,"t":-0.07,"v":0.0,"e":0.01},{"s":5,"t":-0.06,"v":0.002,"e":0.01},{"s":5,"t":-0.05,"v":-0.002,"e":0.01},{"s":5,"t":-0.04,"v":0.004,"e":0.01},{"s":5,"t":-0.03,"v":0.0,"e":0.01},{"s":5,"t":-0.02,"v":0.002,"e":0.01},{"s":5,"t":-0.01,"v":0.006,"e":0.01},{"s":5,"t":0,"v":0.004,"e":0.01},{"s":5,"t":0.01,"v":0.01,"e":0.01},{"s":5,"t":0.02,"v":0.012,"e":0.01},{"s":5,"t":0.03,"v":0.006,"e":0.01},{"s":5,"t":0.04,"v":0.002,"e":0.01},{"s":5,"t":0.05,"v":-0.004,"e":0.01},{"s":5,"t":0.06,"v":-0.008,"e":0.01},{"s":5,"t":0.07,"v":-0.014,"e":0.01},{"s":5,"t":0.08,"v":-0.02,"e":0.01},{"s":5,"t":0.09,"v":-0.03,"e":0.01},{"s":5,"t":0.1,"v":-0.036,"e":0.02},{"s":5,"t":0.11,"v":-0.04,"e":0.02},{"s":5,"t":0.12,"v":-0.046,"e":0.02},{"s":5,"t":0.13,"v":-0.04,"e":0.02},{"s":5,"t":0.14,"v":-0.044,"e":0.02},{"s":5,"t":0.15,"v":-0.034,"e":0.02},{"s":5,"t":0.16,"v":-0.03,"e":0.02},{"s":5,"t":0.17,"v":-0.026,"e":0.02},{"s":5,"t":0.18,"v":-0.028,"e":0.02},{"s":5,"t":0.19,"v":-0.02,"e":0.02},{"s":5,"t":0.2,"v":-0.014,"e":0.02},{"s":5,"t":0.21,"v":-0.006,"e":0.02},{"s":5,"t":0.22,"v":0.004,"e":0.02},{"s":5,"t":0.23,"v":0.012,"e":0.02},{"s":5,"t":0.24,"v":0.006,"e":0.02},{"s":5,"t":0.25,"v":-0.004,"e":0.02},{"s":5,"t":0.26,"v":-0.01,"e":0.02},{"s":5,"t":0.27,"v":-0.006,"e":0.02},{"s":5,"t":0.28,"v":-0.012,"e":0.02},{"s":5,"t":0.29,"v":-0.008,"e":0.02},{"s":5,"t":0.3,"v":-0.014,"e":0.02},{"s":5,"t":0.31,"v":-0.018,"e":0.02},{"s":5,"t":0.32,"v":-0.02,"e":0.02},{"s":5,"t":0.33,"v":-0.014,"e":0.02},{"s":5,"t":0.34,"v":-0.018,"e":0.02},{"s":5,"t":0.35,"v":-0.012,"e":0.02},{"s":5,"t":0.36,"v":-0.016,"e":0.02},{"s":5,"t":0.37,"v":-0.022,"e":0.02},{"s":5,"t":0.38,"v":-0.018,"e":0.02},{"s":5,"t":0.39,"v":-0.024,"e":0.02},{"s":5,"t":0.4,"v":-0.026,"e":0.02},{"s":5,"t":0.41,"v":-0.02,"e":0.02},{"s":5,"t":0.42,"v":-0.014,"e":0.02},{"s":5,"t":0.43,"v":-0.02,"e":0.02},{"s":5,"t":0.44,"v":-0.026,"e":0.02},{"s":5,"t":0.45,"v":-0.022,"e":0.02},{"s":5,"t":0.46,"v":-0.018,"e":0.02},{"s":5,"t":0.47,"v":-0.022,"e":0.02},{"s":5,"t":0.48,"v":-0.02,"e":0.02},{"s":5,"t":0.49,"v":-0.024,"e":0.02},{"s":5,"t":0.5,"v":-0.026,"e":0.02}
],
"ripc":[
{"s":1,"t":-0.1,"v":0.006,"e":0.008},{"s":1,"t":-0.09,"v":0.004,"e":0.008},{"s":1,"t":-0.08,"v":0.0,"e":0.008},{"s":1,"t":-0.07,"v":0.004,"e":0.008},{"s":1,"t":-0.06,"v":0.002,"e":0.008},{"s":1,"t":-0.05,"v":-0.002,"e":0.008},{"s":1,"t":-0.04,"v":0.002,"e":0.008},{"s":1,"t":-0.03,"v":0.0,"e":0.008},{"s":1,"t":-0.02,"v":0.004,"e":0.008},{"s":1,"t":-0.01,"v":0.002,"e":0.008},{"s":1,"t":0,"v":0.0,"e":0.008},{"s":1,"t":0.01,"v":0.002,"e":0.008},{"s":1,"t":0.02,"v":-0.002,"e":0.008},{"s":1,"t":0.03,"v":0.0,"e":0.008},{"s":1,"t":0.04,"v":-0.004,"e":0.008},{"s":1,"t":0.05,"v":-0.006,"e":0.008},{"s":1,"t":0.06,"v":-0.008,"e":0.008},{"s":1,"t":0.07,"v":-0.014,"e":0.008},{"s":1,"t":0.08,"v":-0.02,"e":0.008},{"s":1,"t":0.09,"v":-0.03,"e":0.008},{"s":1,"t":0.1,"v":-0.045,"e":0.015},{"s":1,"t":0.11,"v":-0.062,"e":0.015},{"s":1,"t":0.12,"v":-0.08,"e":0.015},{"s":1,"t":0.13,"v":-0.09,"e":0.015},{"s":1,"t":0.14,"v":-0.092,"e":0.015},{"s":1,"t":0.15,"v":-0.086,"e":0.015},{"s":1,"t":0.16,"v":-0.08,"e":0.015},{"s":1,"t":0.17,"v":-0.076,"e":0.015},{"s":1,"t":0.18,"v":-0.072,"e":0.015},{"s":1,"t":0.19,"v":-0.07,"e":0.015},{"s":1,"t":0.2,"v":-0.068,"e":0.015},{"s":1,"t":0.21,"v":-0.066,"e":0.015},{"s":1,"t":0.22,"v":-0.064,"e":0.015},{"s":1,"t":0.23,"v":-0.062,"e":0.015},{"s":1,"t":0.24,"v":-0.06,"e":0.015},{"s":1,"t":0.25,"v":-0.058,"e":0.015},{"s":1,"t":0.26,"v":-0.062,"e":0.015},{"s":1,"t":0.27,"v":-0.06,"e":0.015},{"s":1,"t":0.28,"v":-0.064,"e":0.015},{"s":1,"t":0.29,"v":-0.066,"e":0.015},{"s":1,"t":0.3,"v":-0.068,"e":0.015},{"s":1,"t":0.31,"v":-0.07,"e":0.015},{"s":1,"t":0.32,"v":-0.072,"e":0.015},{"s":1,"t":0.33,"v":-0.068,"e":0.015},{"s":1,"t":0.34,"v":-0.066,"e":0.015},{"s":1,"t":0.35,"v":-0.064,"e":0.015},{"s":1,"t":0.36,"v":-0.062,"e":0.015},{"s":1,"t":0.37,"v":-0.064,"e":0.015},{"s":1,"t":0.38,"v":-0.06,"e":0.015},{"s":1,"t":0.39,"v":-0.058,"e":0.015},{"s":1,"t":0.4,"v":-0.06,"e":0.015},{"s":1,"t":0.41,"v":-0.056,"e":0.015},{"s":1,"t":0.42,"v":-0.054,"e":0.015},{"s":1,"t":0.43,"v":-0.056,"e":0.015},{"s":1,"t":0.44,"v":-0.052,"e":0.015},{"s":1,"t":0.45,"v":-0.054,"e":0.015},{"s":1,"t":0.46,"v":-0.056,"e":0.015},{"s":1,"t":0.47,"v":-0.058,"e":0.015},{"s":1,"t":0.48,"v":-0.06,"e":0.015},{"s":1,"t":0.49,"v":-0.058,"e":0.015},{"s":1,"t":0.5,"v":-0.06,"e":0.015},
{"s":2,"t":-0.1,"v":0.0,"e":0.008},{"s":2,"t":-0.09,"v":0.004,"e":0.008},{"s":2,"t":-0.08,"v":0.002,"e":0.008},{"s":2,"t":-0.07,"v":0.006,"e":0.008},{"s":2,"t":-0.06,"v":0.004,"e":0.008},{"s":2,"t":-0.05,"v":0.008,"e":0.008},{"s":2,"t":-0.04,"v":0.004,"e":0.008},{"s":2,"t":-0.03,"v":0.006,"e":0.008},{"s":2,"t":-0.02,"v":0.002,"e":0.008},{"s":2,"t":-0.01,"v":0.004,"e":0.008},{"s":2,"t":0,"v":0.0,"e":0.008},{"s":2,"t":0.01,"v":0.002,"e":0.008},{"s":2,"t":0.02,"v":0.0,"e":0.008},{"s":2,"t":0.03,"v":0.002,"e":0.008},{"s":2,"t":0.04,"v":-0.002,"e":0.008},{"s":2,"t":0.05,"v":0.0,"e":0.008},{"s":2,"t":0.06,"v":-0.002,"e":0.008},{"s":2,"t":0.07,"v":0.0,"e":0.008},{"s":2,"t":0.08,"v":-0.004,"e":0.008},{"s":2,"t":0.09,"v":-0.006,"e":0.008},{"s":2,"t":0.1,"v":-0.012,"e":0.02},{"s":2,"t":0.11,"v":-0.018,"e":0.02},{"s":2,"t":0.12,"v":-0.026,"e":0.02},{"s":2,"t":0.13,"v":-0.034,"e":0.02},{"s":2,"t":0.14,"v":-0.04,"e":0.02},{"s":2,"t":0.15,"v":-0.046,"e":0.02},{"s":2,"t":0.16,"v":-0.052,"e":0.02},{"s":2,"t":0.17,"v":-0.058,"e":0.02},{"s":2,"t":0.18,"v":-0.066,"e":0.02},{"s":2,"t":0.19,"v":-0.07,"e":0.02},{"s":2,"t":0.2,"v":-0.068,"e":0.02},{"s":2,"t":0.21,"v":-0.06,"e":0.02},{"s":2,"t":0.22,"v":-0.052,"e":0.02},{"s":2,"t":0.23,"v":-0.04,"e":0.02},{"s":2,"t":0.24,"v":-0.03,"e":0.02},{"s":2,"t":0.25,"v":-0.038,"e":0.02},{"s":2,"t":0.26,"v":-0.044,"e":0.02},{"s":2,"t":0.27,"v":-0.036,"e":0.02},{"s":2,"t":0.28,"v":-0.03,"e":0.02},{"s":2,"t":0.29,"v":-0.04,"e":0.02},{"s":2,"t":0.3,"v":-0.046,"e":0.02},{"s":2,"t":0.31,"v":-0.05,"e":0.02},{"s":2,"t":0.32,"v":-0.054,"e":0.02},{"s":2,"t":0.33,"v":-0.058,"e":0.02},{"s":2,"t":0.34,"v":-0.062,"e":0.02},{"s":2,"t":0.35,"v":-0.06,"e":0.02},{"s":2,"t":0.36,"v":-0.054,"e":0.02},{"s":2,"t":0.37,"v":-0.05,"e":0.02},{"s":2,"t":0.38,"v":-0.046,"e":0.02},{"s":2,"t":0.39,"v":-0.05,"e":0.02},{"s":2,"t":0.4,"v":-0.056,"e":0.02},{"s":2,"t":0.41,"v":-0.054,"e":0.02},{"s":2,"t":0.42,"v":-0.05,"e":0.02},{"s":2,"t":0.43,"v":-0.052,"e":0.02},{"s":2,"t":0.44,"v":-0.056,"e":0.02},{"s":2,"t":0.45,"v":-0.054,"e":0.02},{"s":2,"t":0.46,"v":-0.05,"e":0.02},{"s":2,"t":0.47,"v":-0.048,"e":0.02},{"s":2,"t":0.48,"v":-0.044,"e":0.02},{"s":2,"t":0.49,"v":-0.046,"e":0.02},{"s":2,"t":0.5,"v":-0.048,"e":0.02},
{"s":3,"t":-0.1,"v":-0.006,"e":0.008},{"s":3,"t":-0.09,"v":-0.002,"e":0.008},{"s":3,"t":-0.08,"v":0.0,"e":0.008},{"s":3,"t":-0.07,"v":0.002,"e":0.008},{"s":3,"t":-0.06,"v":0.006,"e":0.008},{"s":3,"t":-0.05,"v":0.004,"e":0.008},{"s":3,"t":-0.04,"v":0.008,"e":0.008},{"s":3,"t":-0.03,"v":0.012,"e":0.008},{"s":3,"t":-0.02,"v":0.008,"e":0.008},{"s":3,"t":-0.01,"v":0.004,"e":0.008},{"s":3,"t":0,"v":0.006,"e":0.008},{"s":3,"t":0.01,"v":0.002,"e":0.008},{"s":3,"t":0.02,"v":0.0,"e":0.008},{"s":3,"t":0.03,"v":0.004,"e":0.008},{"s":3,"t":0.04,"v":0.0,"e":0.008},{"s":3,"t":0.05,"v":0.004,"e":0.008},{"s":3,"t":0.06,"v":0.006,"e":0.008},{"s":3,"t":0.07,"v":0.002,"e":0.008},{"s":3,"t":0.08,"v":0.004,"e":0.008},{"s":3,"t":0.09,"v":0.0,"e":0.008},{"s":3,"t":0.1,"v":-0.02,"e":0.02},{"s":3,"t":0.11,"v":-0.04,"e":0.02},{"s":3,"t":0.12,"v":-0.06,"e":0.02},{"s":3,"t":0.13,"v":-0.08,"e":0.02},{"s":3,"t":0.14,"v":-0.098,"e":0.02},{"s":3,"t":0.15,"v":-0.106,"e":0.02},{"s":3,"t":0.16,"v":-0.11,"e":0.02},{"s":3,"t":0.17,"v":-0.104,"e":0.02},{"s":3,"t":0.18,"v":-0.112,"e":0.02},{"s":3,"t":0.19,"v":-0.104,"e":0.02},{"s":3,"t":0.2,"v":-0.098,"e":0.02},{"s":3,"t":0.21,"v":-0.094,"e":0.02},{"s":3,"t":0.22,"v":-0.088,"e":0.02},{"s":3,"t":0.23,"v":-0.082,"e":0.02},{"s":3,"t":0.24,"v":-0.078,"e":0.02},{"s":3,"t":0.25,"v":-0.072,"e":0.02},{"s":3,"t":0.26,"v":-0.07,"e":0.02},{"s":3,"t":0.27,"v":-0.066,"e":0.02},{"s":3,"t":0.28,"v":-0.064,"e":0.02},{"s":3,"t":0.29,"v":-0.068,"e":0.02},{"s":3,"t":0.3,"v":-0.07,"e":0.02},{"s":3,"t":0.31,"v":-0.074,"e":0.02},{"s":3,"t":0.32,"v":-0.076,"e":0.02},{"s":3,"t":0.33,"v":-0.08,"e":0.02},{"s":3,"t":0.34,"v":-0.082,"e":0.02},{"s":3,"t":0.35,"v":-0.086,"e":0.02},{"s":3,"t":0.36,"v":-0.088,"e":0.02},{"s":3,"t":0.37,"v":-0.092,"e":0.02},{"s":3,"t":0.38,"v":-0.09,"e":0.02},{"s":3,"t":0.39,"v":-0.096,"e":0.02},{"s":3,"t":0.4,"v":-0.1,"e":0.02},{"s":3,"t":0.41,"v":-0.102,"e":0.02},{"s":3,"t":0.42,"v":-0.098,"e":0.02},{"s":3,"t":0.43,"v":-0.094,"e":0.02},{"s":3,"t":0.44,"v":-0.09,"e":0.02},{"s":3,"t":0.45,"v":-0.094,"e":0.02},{"s":3,"t":0.46,"v":-0.098,"e":0.02},{"s":3,"t":0.47,"v":-0.094,"e":0.02},{"s":3,"t":0.48,"v":-0.096,"e":0.02},{"s":3,"t":0.49,"v":-0.094,"e":0.02},{"s":3,"t":0.5,"v":-0.095,"e":0.02},
{"s":4,"t":-0.1,"v":0.004,"e":0.014},{"s":4,"t":-0.09,"v":0.008,"e":0.014},{"s":4,"t":-0.08,"v":0.012,"e":0.014},{"s":4,"t":-0.07,"v":-0.002,"e":0.014},{"s":4,"t":-0.06,"v":-0.006,"e":0.014},{"s":4,"t":-0.05,"v":0.004,"e":0.014},{"s":4,"t":-0.04,"v":0.01,"e":0.014},{"s":4,"t":-0.03,"v":0.004,"e":0.014},{"s":4,"t":-0.02,"v":0.008,"e":0.014},{"s":4,"t":-0.01,"v":-0.006,"e":0.014},{"s":4,"t":0,"v":-0.012,"e":0.014},{"s":4,"t":0.01,"v":0.01,"e":0.014},{"s":4,"t":0.02,"v":0.03,"e":0.014},{"s":4,"t":0.03,"v":0.014,"e":0.014},{"s":4,"t":0.04,"v":0.0,"e":0.014},{"s":4,"t":0.05,"v":0.012,"e":0.014},{"s":4,"t":0.06,"v":0.008,"e":0.014},{"s":4,"t":0.07,"v":-0.004,"e":0.014},{"s":4,"t":0.08,"v":0.006,"e":0.014},{"s":4,"t":0.09,"v":-0.002,"e":0.014},{"s":4,"t":0.1,"v":-0.02,"e":0.025},{"s":4,"t":0.11,"v":-0.04,"e":0.025},{"s":4,"t":0.12,"v":-0.058,"e":0.025},{"s":4,"t":0.13,"v":-0.086,"e":0.025},{"s":4,"t":0.14,"v":-0.078,"e":0.025},{"s":4,"t":0.15,"v":-0.084,"e":0.025},{"s":4,"t":0.16,"v":-0.092,"e":0.025},{"s":4,"t":0.17,"v":-0.076,"e":0.025},{"s":4,"t":0.18,"v":-0.06,"e":0.025},{"s":4,"t":0.19,"v":-0.046,"e":0.025},{"s":4,"t":0.2,"v":-0.04,"e":0.025},{"s":4,"t":0.21,"v":-0.05,"e":0.025},{"s":4,"t":0.22,"v":-0.058,"e":0.025},{"s":4,"t":0.23,"v":-0.062,"e":0.025},{"s":4,"t":0.24,"v":-0.052,"e":0.025},{"s":4,"t":0.25,"v":-0.044,"e":0.025},{"s":4,"t":0.26,"v":-0.05,"e":0.025},{"s":4,"t":0.27,"v":-0.06,"e":0.025},{"s":4,"t":0.28,"v":-0.064,"e":0.025},{"s":4,"t":0.29,"v":-0.056,"e":0.025},{"s":4,"t":0.3,"v":-0.062,"e":0.025},{"s":4,"t":0.31,"v":-0.07,"e":0.025},{"s":4,"t":0.32,"v":-0.064,"e":0.025},{"s":4,"t":0.33,"v":-0.048,"e":0.025},{"s":4,"t":0.34,"v":-0.044,"e":0.025},{"s":4,"t":0.35,"v":-0.05,"e":0.025},{"s":4,"t":0.36,"v":-0.054,"e":0.025},{"s":4,"t":0.37,"v":-0.06,"e":0.025},{"s":4,"t":0.38,"v":-0.064,"e":0.025},{"s":4,"t":0.39,"v":-0.07,"e":0.025},{"s":4,"t":0.4,"v":-0.072,"e":0.025},{"s":4,"t":0.41,"v":-0.076,"e":0.025},{"s":4,"t":0.42,"v":-0.08,"e":0.025},{"s":4,"t":0.43,"v":-0.082,"e":0.025},{"s":4,"t":0.44,"v":-0.07,"e":0.025},{"s":4,"t":0.45,"v":-0.062,"e":0.025},{"s":4,"t":0.46,"v":-0.058,"e":0.025},{"s":4,"t":0.47,"v":-0.054,"e":0.025},{"s":4,"t":0.48,"v":-0.056,"e":0.025},{"s":4,"t":0.49,"v":-0.058,"e":0.025},{"s":4,"t":0.5,"v":-0.06,"e":0.025},
{"s":5,"t":-0.1,"v":0.0,"e":0.008},{"s":5,"t":-0.09,"v":-0.002,"e":0.008},{"s":5,"t":-0.08,"v":0.002,"e":0.008},{"s":5,"t":-0.07,"v":-0.004,"e":0.008},{"s":5,"t":-0.06,"v":-0.006,"e":0.008},{"s":5,"t":-0.05,"v":-0.002,"e":0.008},{"s":5,"t":-0.04,"v":0.0,"e":0.008},{"s":5,"t":-0.03,"v":-0.004,"e":0.008},{"s":5,"t":-0.02,"v":-0.002,"e":0.008},{"s":5,"t":-0.01,"v":-0.006,"e":0.008},{"s":5,"t":0,"v":-0.008,"e":0.008},{"s":5,"t":0.01,"v":-0.01,"e":0.008},{"s":5,"t":0.02,"v":-0.012,"e":0.008},{"s":5,"t":0.03,"v":-0.01,"e":0.008},{"s":5,"t":0.04,"v":-0.012,"e":0.008},{"s":5,"t":0.05,"v":-0.014,"e":0.008},{"s":5,"t":0.06,"v":-0.012,"e":0.008},{"s":5,"t":0.07,"v":-0.016,"e":0.008},{"s":5,"t":0.08,"v":-0.02,"e":0.008},{"s":5,"t":0.09,"v":-0.024,"e":0.008},{"s":5,"t":0.1,"v":-0.034,"e":0.02},{"s":5,"t":0.11,"v":-0.05,"e":0.02},{"s":5,"t":0.12,"v":-0.07,"e":0.02},{"s":5,"t":0.13,"v":-0.088,"e":0.02},{"s":5,"t":0.14,"v":-0.102,"e":0.02},{"s":5,"t":0.15,"v":-0.11,"e":0.02},{"s":5,"t":0.16,"v":-0.108,"e":0.02},{"s":5,"t":0.17,"v":-0.106,"e":0.02},{"s":5,"t":0.18,"v":-0.11,"e":0.02},{"s":5,"t":0.19,"v":-0.1,"e":0.02},{"s":5,"t":0.2,"v":-0.094,"e":0.02},{"s":5,"t":0.21,"v":-0.098,"e":0.02},{"s":5,"t":0.22,"v":-0.092,"e":0.02},{"s":5,"t":0.23,"v":-0.088,"e":0.02},{"s":5,"t":0.24,"v":-0.094,"e":0.02},{"s":5,"t":0.25,"v":-0.086,"e":0.02},{"s":5,"t":0.26,"v":-0.082,"e":0.02},{"s":5,"t":0.27,"v":-0.08,"e":0.02},{"s":5,"t":0.28,"v":-0.088,"e":0.02},{"s":5,"t":0.29,"v":-0.09,"e":0.02},{"s":5,"t":0.3,"v":-0.082,"e":0.02},{"s":5,"t":0.31,"v":-0.086,"e":0.02},{"s":5,"t":0.32,"v":-0.092,"e":0.02},{"s":5,"t":0.33,"v":-0.098,"e":0.02},{"s":5,"t":0.34,"v":-0.096,"e":0.02},{"s":5,"t":0.35,"v":-0.1,"e":0.02},{"s":5,"t":0.36,"v":-0.098,"e":0.02},{"s":5,"t":0.37,"v":-0.104,"e":0.02},{"s":5,"t":0.38,"v":-0.1,"e":0.02},{"s":5,"t":0.39,"v":-0.106,"e":0.02},{"s":5,"t":0.4,"v":-0.11,"e":0.02},{"s":5,"t":0.41,"v":-0.104,"e":0.02},{"s":5,"t":0.42,"v":-0.1,"e":0.02},{"s":5,"t":0.43,"v":-0.106,"e":0.02},{"s":5,"t":0.44,"v":-0.104,"e":0.02},{"s":5,"t":0.45,"v":-0.108,"e":0.02},{"s":5,"t":0.46,"v":-0.112,"e":0.02},{"s":5,"t":0.47,"v":-0.106,"e":0.02},{"s":5,"t":0.48,"v":-0.104,"e":0.02},{"s":5,"t":0.49,"v":-0.11,"e":0.02},{"s":5,"t":0.5,"v":-0.112,"e":0.02}
]
},
"concat":[
{"width":196,"height":192,"title":"Left A1","data":{"name":"la1"},
"encoding":{"x":{"field":"t","type":"quantitative","scale":{"domain":[-0.1,0.5],"nice":false,"zero":false},"axis":{"values":[0,0.2,0.4],"title":"Time (s)","labelExpr":"''+datum.value"}},"y":{"field":"v","type":"quantitative","scale":{"domain":[-0.3,0.094],"nice":false,"zero":false},"axis":{"values":[-0.3,-0.25,-0.2,-0.15,-0.1,-0.05,0,0.05],"title":"Response (AU)","labelExpr":"''+datum.value"}},"color":{"field":"s","type":"nominal","scale":{"domain":[1,2,3,4,5],"range":["#3f2ca6","#2f7de1","#1cb2a6","#c2b62c","#f7ec16"]},"legend":null}},
"layer":[
{"mark":{"type":"errorband","opacity":0.28,"clip":true},"encoding":{"yError":{"field":"e"}}},
{"mark":{"type":"line","strokeWidth":1.6,"clip":true}},
{"data":{"values":[{"t":-0.1,"t2":0.5,"v":0}]},"mark":{"type":"rule","strokeWidth":2,"strokeDash":[7,5]},"encoding":{"x2":{"field":"t2"},"color":{"value":"#000"}}},
{"data":{"values":[{"s":5,"t":0.12,"t2":0.185,"v":0.092},{"s":3,"t":0.033,"t2":0.212,"v":0.075},{"s":3,"t":0.217,"t2":0.412,"v":0.075},{"s":2,"t":0.043,"t2":0.056,"v":0.066},{"s":2,"t":0.091,"t2":0.168,"v":0.066}]},"mark":{"type":"rule","strokeWidth":2},"encoding":{"x2":{"field":"t2"}}}
]},
{"width":196,"height":192,"title":"Left STG","data":{"name":"lstg"},
"encoding":{"x":{"field":"t","type":"quantitative","scale":{"domain":[-0.1,0.5],"nice":false,"zero":false},"axis":{"values":[0,0.2,0.4],"title":"Time (s)","labelExpr":"''+datum.value"}},"y":{"field":"v","type":"quantitative","scale":{"domain":[-0.35,0.157],"nice":false,"zero":false},"axis":{"values":[-0.3,-0.2,-0.1,0,0.1],"title":"Response (AU)","labelExpr":"''+datum.value"}},"color":{"field":"s","type":"nominal","scale":{"domain":[1,2,3,4,5],"range":["#3f2ca6","#2f7de1","#1cb2a6","#c2b62c","#f7ec16"]},"legend":null}},
"layer":[
{"mark":{"type":"errorband","opacity":0.28,"clip":true},"encoding":{"yError":{"field":"e"}}},
{"mark":{"type":"line","strokeWidth":1.6,"clip":true}},
{"data":{"values":[{"t":-0.1,"t2":0.5,"v":0}]},"mark":{"type":"rule","strokeWidth":2,"strokeDash":[7,5]},"encoding":{"x2":{"field":"t2"},"color":{"value":"#000"}}},
{"data":{"values":[{"s":5,"t":0.106,"t2":0.195,"v":0.155},{"s":4,"t":0.106,"t2":0.112,"v":0.145},{"s":4,"t":0.118,"t2":0.124,"v":0.145},{"s":4,"t":0.128,"t2":0.161,"v":0.145},{"s":3,"t":0.0,"t2":0.424,"v":0.1345},{"s":3,"t":0.432,"t2":0.438,"v":0.1345},{"s":2,"t":0.085,"t2":0.172,"v":0.122}]},"mark":{"type":"rule","strokeWidth":2},"encoding":{"x2":{"field":"t2"}}}
]},
{"width":196,"height":192,"title":"Left IFG","data":{"name":"lifg"},
"encoding":{"x":{"field":"t","type":"quantitative","scale":{"domain":[-0.1,0.5],"nice":false,"zero":false},"axis":{"values":[0,0.2,0.4],"title":"Time (s)","labelExpr":"''+datum.value"}},"y":{"field":"v","type":"quantitative","scale":{"domain":[-0.06,0.166],"nice":false,"zero":false},"axis":{"values":[-0.05,0,0.05,0.1,0.15],"title":"Response (AU)","labelExpr":"''+datum.value"}},"color":{"field":"s","type":"nominal","scale":{"domain":[1,2,3,4,5],"range":["#3f2ca6","#2f7de1","#1cb2a6","#c2b62c","#f7ec16"]},"legend":null}},
"layer":[
{"mark":{"type":"errorband","opacity":0.28,"clip":true},"encoding":{"yError":{"field":"e"}}},
{"mark":{"type":"line","strokeWidth":1.6,"clip":true}},
{"data":{"values":[{"t":-0.1,"t2":0.5,"v":0}]},"mark":{"type":"rule","strokeWidth":2,"strokeDash":[7,5]},"encoding":{"x2":{"field":"t2"},"color":{"value":"#000"}}}
]},
{"width":196,"height":192,"title":"Left IPC","data":{"name":"lipc"},
"encoding":{"x":{"field":"t","type":"quantitative","scale":{"domain":[-0.1,0.5],"nice":false,"zero":false},"axis":{"values":[0,0.2,0.4],"title":"Time (s)","labelExpr":"''+datum.value"}},"y":{"field":"v","type":"quantitative","scale":{"domain":[-0.1,0.035],"nice":false,"zero":false},"axis":{"values":[-0.1,-0.08,-0.06,-0.04,-0.02,0,0.02],"title":"Response (AU)","labelExpr":"''+datum.value"}},"color":{"field":"s","type":"nominal","scale":{"domain":[1,2,3,4,5],"range":["#3f2ca6","#2f7de1","#1cb2a6","#c2b62c","#f7ec16"]},"legend":null}},
"layer":[
{"mark":{"type":"errorband","opacity":0.28,"clip":true},"encoding":{"yError":{"field":"e"}}},
{"mark":{"type":"line","strokeWidth":1.6,"clip":true}},
{"data":{"values":[{"t":-0.1,"t2":0.5,"v":0}]},"mark":{"type":"rule","strokeWidth":2,"strokeDash":[7,5]},"encoding":{"x2":{"field":"t2"},"color":{"value":"#000"}}}
]},
{"width":196,"height":192,"title":{"text":"Right A1","offset":6},"data":{"name":"ra1"},
"encoding":{"x":{"field":"t","type":"quantitative","scale":{"domain":[-0.1,0.5],"nice":false,"zero":false},"axis":{"values":[0,0.2,0.4],"title":"Time (s)","labelExpr":"''+datum.value"}},"y":{"field":"v","type":"quantitative","scale":{"domain":[-0.25,0.089],"nice":false,"zero":false},"axis":{"values":[-0.25,-0.2,-0.15,-0.1,-0.05,0,0.05],"title":"Response (AU)","labelExpr":"''+datum.value"}},"color":{"field":"s","type":"nominal","scale":{"domain":[1,2,3,4,5],"range":["#3f2ca6","#2f7de1","#1cb2a6","#c2b62c","#f7ec16"]},"legend":null}},
"layer":[
{"mark":{"type":"errorband","opacity":0.28,"clip":true},"encoding":{"yError":{"field":"e"}}},
{"mark":{"type":"line","strokeWidth":1.6,"clip":true}},
{"data":{"values":[{"t":-0.1,"t2":0.5,"v":0}]},"mark":{"type":"rule","strokeWidth":2,"strokeDash":[7,5]},"encoding":{"x2":{"field":"t2"},"color":{"value":"#000"}}},
{"data":{"values":[{"s":3,"t":0.066,"t2":0.189,"v":0.073},{"s":3,"t":0.24,"t2":0.245,"v":0.073},{"s":3,"t":0.25,"t2":0.327,"v":0.073}]},"mark":{"type":"rule","strokeWidth":2},"encoding":{"x2":{"field":"t2"}}}
]},
{"width":196,"height":192,"title":{"text":"Right STG","offset":1},"data":{"name":"rstg"},
"encoding":{"x":{"field":"t","type":"quantitative","scale":{"domain":[-0.1,0.5],"nice":false,"zero":false},"axis":{"values":[0,0.2,0.4],"title":"Time (s)","labelExpr":"''+datum.value"}},"y":{"field":"v","type":"quantitative","scale":{"domain":[-0.35,0.101],"nice":false,"zero":false},"axis":{"values":[-0.35,-0.3,-0.25,-0.2,-0.15,-0.1,-0.05,0,0.05,0.1],"title":"Response (AU)","labelExpr":"''+datum.value"}},"color":{"field":"s","type":"nominal","scale":{"domain":[1,2,3,4,5],"range":["#3f2ca6","#2f7de1","#1cb2a6","#c2b62c","#f7ec16"]},"legend":null}},
"layer":[
{"mark":{"type":"errorband","opacity":0.28,"clip":true},"encoding":{"yError":{"field":"e"}}},
{"mark":{"type":"line","strokeWidth":1.6,"clip":true}},
{"data":{"values":[{"t":-0.1,"t2":0.5,"v":0}]},"mark":{"type":"rule","strokeWidth":2,"strokeDash":[7,5]},"encoding":{"x2":{"field":"t2"},"color":{"value":"#000"}}}
]},
{"width":196,"height":192,"title":{"text":"Right IFG","offset":6},"data":{"name":"rifg"},
"encoding":{"x":{"field":"t","type":"quantitative","scale":{"domain":[-0.1,0.5],"nice":false,"zero":false},"axis":{"values":[0,0.2,0.4],"title":"Time (s)","labelExpr":"''+datum.value"}},"y":{"field":"v","type":"quantitative","scale":{"domain":[-0.2,0.193],"nice":false,"zero":false},"axis":{"values":[-0.2,-0.15,-0.1,-0.05,0,0.05,0.1,0.15],"title":"Response (AU)","labelExpr":"''+datum.value"}},"color":{"field":"s","type":"nominal","scale":{"domain":[1,2,3,4,5],"range":["#3f2ca6","#2f7de1","#1cb2a6","#c2b62c","#f7ec16"]},"legend":null}},
"layer":[
{"mark":{"type":"errorband","opacity":0.28,"clip":true},"encoding":{"yError":{"field":"e"}}},
{"mark":{"type":"line","strokeWidth":1.6,"clip":true}},
{"data":{"values":[{"t":-0.1,"t2":0.5,"v":0}]},"mark":{"type":"rule","strokeWidth":2,"strokeDash":[7,5]},"encoding":{"x2":{"field":"t2"},"color":{"value":"#000"}}}
]},
{"width":196,"height":192,"title":{"text":"Right IPC","offset":6},"data":{"name":"ripc"},
"encoding":{"x":{"field":"t","type":"quantitative","scale":{"domain":[-0.1,0.5],"nice":false,"zero":false},"axis":{"values":[0,0.2,0.4],"title":"Time (s)","labelExpr":"''+datum.value"}},"y":{"field":"v","type":"quantitative","scale":{"domain":[-0.2,0.082],"nice":false,"zero":false},"axis":{"values":[-0.2,-0.15,-0.1,-0.05,0,0.05],"title":"Response (AU)","labelExpr":"''+datum.value"}},"color":{"field":"s","type":"nominal","scale":{"domain":[1,2,3,4,5],"range":["#3f2ca6","#2f7de1","#1cb2a6","#c2b62c","#f7ec16"]},"legend":null}},
"layer":[
{"mark":{"type":"errorband","opacity":0.28,"clip":true},"encoding":{"yError":{"field":"e"}}},
{"mark":{"type":"line","strokeWidth":1.6,"clip":true}},
{"data":{"values":[{"t":-0.1,"t2":0.5,"v":0}]},"mark":{"type":"rule","strokeWidth":2,"strokeDash":[7,5]},"encoding":{"x2":{"field":"t2"},"color":{"value":"#000"}}}
]}
]
}
